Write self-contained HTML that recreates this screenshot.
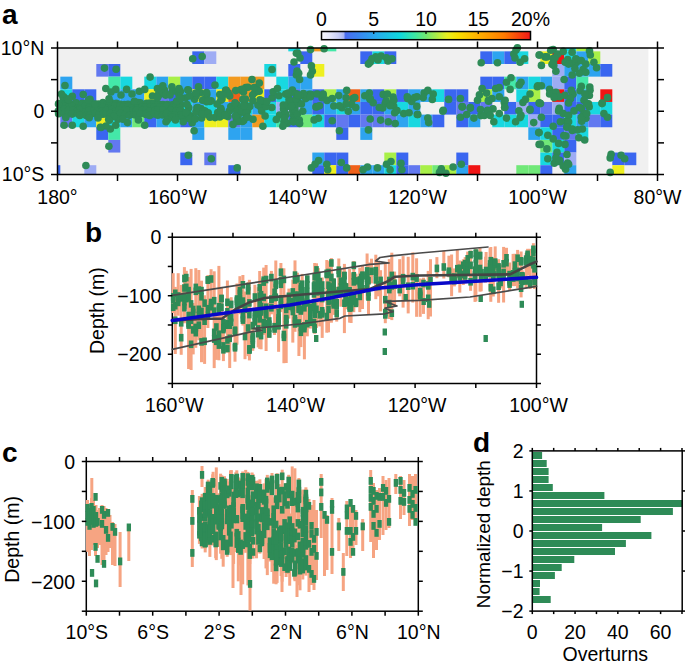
<!DOCTYPE html>
<html><head><meta charset="utf-8"><style>
html,body{margin:0;padding:0;background:#fff;width:685px;height:666px;overflow:hidden;}
svg{display:block;font-family:"Liberation Sans",sans-serif;}
</style></head><body>
<svg width="685" height="666" viewBox="0 0 685 666" font-family="Liberation Sans, sans-serif" fill="#000"><rect x="57.5" y="48" width="590.9" height="126.5" fill="#f0f0f0"/>
<defs><clipPath id="ca"><rect x="57.5" y="48" width="600" height="126.5"/></clipPath></defs><g clip-path="url(#ca)"><rect x="288.30" y="48.00" width="12.00" height="3.35" fill="#18d8e0"/><rect x="312.30" y="48.00" width="12.00" height="3.35" fill="#f29a20"/><rect x="324.30" y="48.00" width="12.00" height="3.35" fill="#44e8a8"/><rect x="564.30" y="48.00" width="12.00" height="3.35" fill="#18d8e0"/><rect x="576.30" y="48.00" width="12.00" height="3.35" fill="#a8f048"/><rect x="192.30" y="51.35" width="12.00" height="12.65" fill="#3a66f0"/><rect x="204.30" y="51.35" width="12.00" height="12.65" fill="#9eacf4"/><rect x="300.30" y="51.35" width="12.00" height="12.65" fill="#3a66f0"/><rect x="360.30" y="51.35" width="12.00" height="12.65" fill="#3a66f0"/><rect x="372.30" y="51.35" width="12.00" height="12.65" fill="#18d8e0"/><rect x="384.30" y="51.35" width="12.00" height="12.65" fill="#3a66f0"/><rect x="480.30" y="51.35" width="12.00" height="12.65" fill="#3a66f0"/><rect x="492.30" y="51.35" width="12.00" height="12.65" fill="#2ea4f0"/><rect x="504.30" y="51.35" width="12.00" height="12.65" fill="#3a66f0"/><rect x="516.30" y="51.35" width="12.00" height="12.65" fill="#18d8e0"/><rect x="540.30" y="51.35" width="12.00" height="12.65" fill="#eef020"/><rect x="552.30" y="51.35" width="12.00" height="12.65" fill="#f01414"/><rect x="564.30" y="51.35" width="12.00" height="12.65" fill="#18d8e0"/><rect x="576.30" y="51.35" width="12.00" height="12.65" fill="#2ea4f0"/><rect x="588.30" y="51.35" width="12.00" height="12.65" fill="#a8f048"/><rect x="96.30" y="64.00" width="12.00" height="12.65" fill="#6278f0"/><rect x="108.30" y="64.00" width="12.00" height="12.65" fill="#3a66f0"/><rect x="264.30" y="64.00" width="12.00" height="12.65" fill="#18d8e0"/><rect x="288.30" y="64.00" width="12.00" height="12.65" fill="#3a66f0"/><rect x="312.30" y="64.00" width="12.00" height="12.65" fill="#eef020"/><rect x="552.30" y="64.00" width="12.00" height="12.65" fill="#9eacf4"/><rect x="564.30" y="64.00" width="12.00" height="12.65" fill="#2ea4f0"/><rect x="576.30" y="64.00" width="12.00" height="12.65" fill="#2ea4f0"/><rect x="588.30" y="64.00" width="12.00" height="12.65" fill="#2ea4f0"/><rect x="600.30" y="64.00" width="12.00" height="12.65" fill="#3a66f0"/><rect x="60.30" y="76.65" width="12.00" height="12.65" fill="#2ea4f0"/><rect x="108.30" y="76.65" width="12.00" height="12.65" fill="#44e8a8"/><rect x="120.30" y="76.65" width="12.00" height="12.65" fill="#18d8e0"/><rect x="144.30" y="76.65" width="12.00" height="12.65" fill="#18d8e0"/><rect x="156.30" y="76.65" width="12.00" height="12.65" fill="#2ea4f0"/><rect x="168.30" y="76.65" width="12.00" height="12.65" fill="#a8f048"/><rect x="180.30" y="76.65" width="12.00" height="12.65" fill="#2ea4f0"/><rect x="192.30" y="76.65" width="12.00" height="12.65" fill="#3a66f0"/><rect x="204.30" y="76.65" width="12.00" height="12.65" fill="#3a66f0"/><rect x="216.30" y="76.65" width="12.00" height="12.65" fill="#18d8e0"/><rect x="228.30" y="76.65" width="12.00" height="12.65" fill="#f29a20"/><rect x="240.30" y="76.65" width="12.00" height="12.65" fill="#f29a20"/><rect x="252.30" y="76.65" width="12.00" height="12.65" fill="#f29a20"/><rect x="276.30" y="76.65" width="12.00" height="12.65" fill="#18d8e0"/><rect x="288.30" y="76.65" width="12.00" height="12.65" fill="#2ea4f0"/><rect x="300.30" y="76.65" width="12.00" height="12.65" fill="#2ea4f0"/><rect x="480.30" y="76.65" width="12.00" height="12.65" fill="#3a66f0"/><rect x="492.30" y="76.65" width="12.00" height="12.65" fill="#3a66f0"/><rect x="504.30" y="76.65" width="12.00" height="12.65" fill="#44e8a8"/><rect x="516.30" y="76.65" width="12.00" height="12.65" fill="#2ea4f0"/><rect x="528.30" y="76.65" width="12.00" height="12.65" fill="#18d8e0"/><rect x="540.30" y="76.65" width="12.00" height="12.65" fill="#2ea4f0"/><rect x="552.30" y="76.65" width="12.00" height="12.65" fill="#9eacf4"/><rect x="564.30" y="76.65" width="12.00" height="12.65" fill="#3a66f0"/><rect x="576.30" y="76.65" width="12.00" height="12.65" fill="#44e8a8"/><rect x="60.30" y="89.30" width="12.00" height="12.65" fill="#18d8e0"/><rect x="72.30" y="89.30" width="12.00" height="12.65" fill="#3a66f0"/><rect x="84.30" y="89.30" width="12.00" height="12.65" fill="#3a66f0"/><rect x="108.30" y="89.30" width="12.00" height="12.65" fill="#2ea4f0"/><rect x="120.30" y="89.30" width="12.00" height="12.65" fill="#2ea4f0"/><rect x="132.30" y="89.30" width="12.00" height="12.65" fill="#2ea4f0"/><rect x="144.30" y="89.30" width="12.00" height="12.65" fill="#eef020"/><rect x="156.30" y="89.30" width="12.00" height="12.65" fill="#6278f0"/><rect x="168.30" y="89.30" width="12.00" height="12.65" fill="#3a66f0"/><rect x="180.30" y="89.30" width="12.00" height="12.65" fill="#2ea4f0"/><rect x="192.30" y="89.30" width="12.00" height="12.65" fill="#eef020"/><rect x="204.30" y="89.30" width="12.00" height="12.65" fill="#2ea4f0"/><rect x="216.30" y="89.30" width="12.00" height="12.65" fill="#eef020"/><rect x="228.30" y="89.30" width="12.00" height="12.65" fill="#f06018"/><rect x="240.30" y="89.30" width="12.00" height="12.65" fill="#f29a20"/><rect x="252.30" y="89.30" width="12.00" height="12.65" fill="#eef020"/><rect x="264.30" y="89.30" width="12.00" height="12.65" fill="#3a66f0"/><rect x="276.30" y="89.30" width="12.00" height="12.65" fill="#18d8e0"/><rect x="288.30" y="89.30" width="12.00" height="12.65" fill="#3a66f0"/><rect x="300.30" y="89.30" width="12.00" height="12.65" fill="#2ea4f0"/><rect x="312.30" y="89.30" width="12.00" height="12.65" fill="#3a66f0"/><rect x="324.30" y="89.30" width="12.00" height="12.65" fill="#a8f048"/><rect x="336.30" y="89.30" width="12.00" height="12.65" fill="#2ea4f0"/><rect x="348.30" y="89.30" width="12.00" height="12.65" fill="#f06018"/><rect x="360.30" y="89.30" width="12.00" height="12.65" fill="#2ea4f0"/><rect x="372.30" y="89.30" width="12.00" height="12.65" fill="#3a66f0"/><rect x="384.30" y="89.30" width="12.00" height="12.65" fill="#a8f048"/><rect x="396.30" y="89.30" width="12.00" height="12.65" fill="#3a66f0"/><rect x="408.30" y="89.30" width="12.00" height="12.65" fill="#2ea4f0"/><rect x="420.30" y="89.30" width="12.00" height="12.65" fill="#2ea4f0"/><rect x="432.30" y="89.30" width="12.00" height="12.65" fill="#18d8e0"/><rect x="444.30" y="89.30" width="12.00" height="12.65" fill="#3a66f0"/><rect x="456.30" y="89.30" width="12.00" height="12.65" fill="#3a66f0"/><rect x="480.30" y="89.30" width="12.00" height="12.65" fill="#a8f048"/><rect x="492.30" y="89.30" width="12.00" height="12.65" fill="#2ea4f0"/><rect x="516.30" y="89.30" width="12.00" height="12.65" fill="#18d8e0"/><rect x="528.30" y="89.30" width="12.00" height="12.65" fill="#a8f048"/><rect x="552.30" y="89.30" width="12.00" height="12.65" fill="#f01414"/><rect x="564.30" y="89.30" width="12.00" height="12.65" fill="#3a66f0"/><rect x="576.30" y="89.30" width="12.00" height="12.65" fill="#2ea4f0"/><rect x="600.30" y="89.30" width="12.00" height="12.65" fill="#f01414"/><rect x="57.50" y="101.95" width="2.80" height="12.65" fill="#2ea4f0"/><rect x="60.30" y="101.95" width="12.00" height="12.65" fill="#18d8e0"/><rect x="72.30" y="101.95" width="12.00" height="12.65" fill="#f29a20"/><rect x="84.30" y="101.95" width="12.00" height="12.65" fill="#2ea4f0"/><rect x="96.30" y="101.95" width="12.00" height="12.65" fill="#18d8e0"/><rect x="108.30" y="101.95" width="12.00" height="12.65" fill="#eef020"/><rect x="120.30" y="101.95" width="12.00" height="12.65" fill="#a8f048"/><rect x="132.30" y="101.95" width="12.00" height="12.65" fill="#eef020"/><rect x="144.30" y="101.95" width="12.00" height="12.65" fill="#18d8e0"/><rect x="156.30" y="101.95" width="12.00" height="12.65" fill="#2ea4f0"/><rect x="168.30" y="101.95" width="12.00" height="12.65" fill="#2ea4f0"/><rect x="180.30" y="101.95" width="12.00" height="12.65" fill="#18d8e0"/><rect x="192.30" y="101.95" width="12.00" height="12.65" fill="#2ea4f0"/><rect x="204.30" y="101.95" width="12.00" height="12.65" fill="#18d8e0"/><rect x="216.30" y="101.95" width="12.00" height="12.65" fill="#2ea4f0"/><rect x="228.30" y="101.95" width="12.00" height="12.65" fill="#2ea4f0"/><rect x="240.30" y="101.95" width="12.00" height="12.65" fill="#18d8e0"/><rect x="252.30" y="101.95" width="12.00" height="12.65" fill="#2ea4f0"/><rect x="264.30" y="101.95" width="12.00" height="12.65" fill="#18d8e0"/><rect x="276.30" y="101.95" width="12.00" height="12.65" fill="#9eacf4"/><rect x="288.30" y="101.95" width="12.00" height="12.65" fill="#9eacf4"/><rect x="300.30" y="101.95" width="12.00" height="12.65" fill="#2ea4f0"/><rect x="312.30" y="101.95" width="12.00" height="12.65" fill="#3a66f0"/><rect x="324.30" y="101.95" width="12.00" height="12.65" fill="#2ea4f0"/><rect x="336.30" y="101.95" width="12.00" height="12.65" fill="#18d8e0"/><rect x="348.30" y="101.95" width="12.00" height="12.65" fill="#2ea4f0"/><rect x="360.30" y="101.95" width="12.00" height="12.65" fill="#3a66f0"/><rect x="372.30" y="101.95" width="12.00" height="12.65" fill="#3a66f0"/><rect x="384.30" y="101.95" width="12.00" height="12.65" fill="#2ea4f0"/><rect x="396.30" y="101.95" width="12.00" height="12.65" fill="#18d8e0"/><rect x="408.30" y="101.95" width="12.00" height="12.65" fill="#2ea4f0"/><rect x="444.30" y="101.95" width="12.00" height="12.65" fill="#3a66f0"/><rect x="456.30" y="101.95" width="12.00" height="12.65" fill="#6278f0"/><rect x="468.30" y="101.95" width="12.00" height="12.65" fill="#3a66f0"/><rect x="480.30" y="101.95" width="12.00" height="12.65" fill="#6278f0"/><rect x="504.30" y="101.95" width="12.00" height="12.65" fill="#3a66f0"/><rect x="516.30" y="101.95" width="12.00" height="12.65" fill="#9eacf4"/><rect x="528.30" y="101.95" width="12.00" height="12.65" fill="#3a66f0"/><rect x="540.30" y="101.95" width="12.00" height="12.65" fill="#6278f0"/><rect x="552.30" y="101.95" width="12.00" height="12.65" fill="#9eacf4"/><rect x="564.30" y="101.95" width="12.00" height="12.65" fill="#3a66f0"/><rect x="576.30" y="101.95" width="12.00" height="12.65" fill="#3a66f0"/><rect x="588.30" y="101.95" width="12.00" height="12.65" fill="#18d8e0"/><rect x="600.30" y="101.95" width="12.00" height="12.65" fill="#18d8e0"/><rect x="60.30" y="114.60" width="12.00" height="12.65" fill="#6278f0"/><rect x="72.30" y="114.60" width="12.00" height="12.65" fill="#18d8e0"/><rect x="84.30" y="114.60" width="12.00" height="12.65" fill="#2ea4f0"/><rect x="96.30" y="114.60" width="12.00" height="12.65" fill="#eef020"/><rect x="108.30" y="114.60" width="12.00" height="12.65" fill="#18d8e0"/><rect x="120.30" y="114.60" width="12.00" height="12.65" fill="#2ea4f0"/><rect x="132.30" y="114.60" width="12.00" height="12.65" fill="#70e878"/><rect x="144.30" y="114.60" width="12.00" height="12.65" fill="#3a66f0"/><rect x="156.30" y="114.60" width="12.00" height="12.65" fill="#2ea4f0"/><rect x="168.30" y="114.60" width="12.00" height="12.65" fill="#18d8e0"/><rect x="180.30" y="114.60" width="12.00" height="12.65" fill="#3a66f0"/><rect x="192.30" y="114.60" width="12.00" height="12.65" fill="#2ea4f0"/><rect x="204.30" y="114.60" width="12.00" height="12.65" fill="#eef020"/><rect x="216.30" y="114.60" width="12.00" height="12.65" fill="#eef020"/><rect x="228.30" y="114.60" width="12.00" height="12.65" fill="#6278f0"/><rect x="240.30" y="114.60" width="12.00" height="12.65" fill="#2ea4f0"/><rect x="252.30" y="114.60" width="12.00" height="12.65" fill="#f29a20"/><rect x="264.30" y="114.60" width="12.00" height="12.65" fill="#18d8e0"/><rect x="276.30" y="114.60" width="12.00" height="12.65" fill="#44e8a8"/><rect x="288.30" y="114.60" width="12.00" height="12.65" fill="#3a66f0"/><rect x="300.30" y="114.60" width="12.00" height="12.65" fill="#70e878"/><rect x="312.30" y="114.60" width="12.00" height="12.65" fill="#18d8e0"/><rect x="324.30" y="114.60" width="12.00" height="12.65" fill="#3a66f0"/><rect x="336.30" y="114.60" width="12.00" height="12.65" fill="#6278f0"/><rect x="348.30" y="114.60" width="12.00" height="12.65" fill="#3a66f0"/><rect x="360.30" y="114.60" width="12.00" height="12.65" fill="#6278f0"/><rect x="372.30" y="114.60" width="12.00" height="12.65" fill="#6278f0"/><rect x="384.30" y="114.60" width="12.00" height="12.65" fill="#6278f0"/><rect x="396.30" y="114.60" width="12.00" height="12.65" fill="#2ea4f0"/><rect x="408.30" y="114.60" width="12.00" height="12.65" fill="#18d8e0"/><rect x="420.30" y="114.60" width="12.00" height="12.65" fill="#2ea4f0"/><rect x="432.30" y="114.60" width="12.00" height="12.65" fill="#3a66f0"/><rect x="456.30" y="114.60" width="12.00" height="12.65" fill="#3a66f0"/><rect x="468.30" y="114.60" width="12.00" height="12.65" fill="#2ea4f0"/><rect x="492.30" y="114.60" width="12.00" height="12.65" fill="#18d8e0"/><rect x="504.30" y="114.60" width="12.00" height="12.65" fill="#18d8e0"/><rect x="516.30" y="114.60" width="12.00" height="12.65" fill="#18d8e0"/><rect x="528.30" y="114.60" width="12.00" height="12.65" fill="#9eacf4"/><rect x="540.30" y="114.60" width="12.00" height="12.65" fill="#3a66f0"/><rect x="552.30" y="114.60" width="12.00" height="12.65" fill="#3a66f0"/><rect x="564.30" y="114.60" width="12.00" height="12.65" fill="#18d8e0"/><rect x="576.30" y="114.60" width="12.00" height="12.65" fill="#2ea4f0"/><rect x="588.30" y="114.60" width="12.00" height="12.65" fill="#6278f0"/><rect x="600.30" y="114.60" width="12.00" height="12.65" fill="#3a66f0"/><rect x="96.30" y="127.25" width="12.00" height="12.65" fill="#3a66f0"/><rect x="108.30" y="127.25" width="12.00" height="12.65" fill="#44e8a8"/><rect x="192.30" y="127.25" width="12.00" height="12.65" fill="#2ea4f0"/><rect x="228.30" y="127.25" width="12.00" height="12.65" fill="#2ea4f0"/><rect x="240.30" y="127.25" width="12.00" height="12.65" fill="#2ea4f0"/><rect x="336.30" y="127.25" width="12.00" height="12.65" fill="#3a66f0"/><rect x="360.30" y="127.25" width="12.00" height="12.65" fill="#2ea4f0"/><rect x="528.30" y="127.25" width="12.00" height="12.65" fill="#2ea4f0"/><rect x="540.30" y="127.25" width="12.00" height="12.65" fill="#18d8e0"/><rect x="552.30" y="127.25" width="12.00" height="12.65" fill="#3a66f0"/><rect x="564.30" y="127.25" width="12.00" height="12.65" fill="#6278f0"/><rect x="576.30" y="127.25" width="12.00" height="12.65" fill="#18d8e0"/><rect x="108.30" y="139.90" width="12.00" height="12.65" fill="#6278f0"/><rect x="540.30" y="139.90" width="12.00" height="12.65" fill="#70e878"/><rect x="552.30" y="139.90" width="12.00" height="12.65" fill="#18d8e0"/><rect x="564.30" y="139.90" width="12.00" height="12.65" fill="#3a66f0"/><rect x="180.30" y="152.55" width="12.00" height="12.65" fill="#3a66f0"/><rect x="204.30" y="152.55" width="12.00" height="12.65" fill="#6278f0"/><rect x="312.30" y="152.55" width="12.00" height="12.65" fill="#2ea4f0"/><rect x="324.30" y="152.55" width="12.00" height="12.65" fill="#3a66f0"/><rect x="336.30" y="152.55" width="12.00" height="12.65" fill="#3a66f0"/><rect x="384.30" y="152.55" width="12.00" height="12.65" fill="#a8f048"/><rect x="396.30" y="152.55" width="12.00" height="12.65" fill="#3a66f0"/><rect x="456.30" y="152.55" width="12.00" height="12.65" fill="#3a66f0"/><rect x="540.30" y="152.55" width="12.00" height="12.65" fill="#18d8e0"/><rect x="552.30" y="152.55" width="12.00" height="12.65" fill="#3a66f0"/><rect x="564.30" y="152.55" width="12.00" height="12.65" fill="#9eacf4"/><rect x="612.30" y="152.55" width="12.00" height="12.65" fill="#3a66f0"/><rect x="624.30" y="152.55" width="12.00" height="12.65" fill="#3a66f0"/><rect x="57.50" y="165.20" width="2.80" height="9.30" fill="#3a66f0"/><rect x="84.30" y="165.20" width="12.00" height="9.30" fill="#9eacf4"/><rect x="228.30" y="165.20" width="12.00" height="9.30" fill="#3a66f0"/><rect x="312.30" y="165.20" width="12.00" height="9.30" fill="#3a66f0"/><rect x="324.30" y="165.20" width="12.00" height="9.30" fill="#eef020"/><rect x="336.30" y="165.20" width="12.00" height="9.30" fill="#3a66f0"/><rect x="348.30" y="165.20" width="12.00" height="9.30" fill="#f06018"/><rect x="360.30" y="165.20" width="12.00" height="9.30" fill="#2ea4f0"/><rect x="372.30" y="165.20" width="12.00" height="9.30" fill="#2ea4f0"/><rect x="384.30" y="165.20" width="12.00" height="9.30" fill="#18d8e0"/><rect x="396.30" y="165.20" width="12.00" height="9.30" fill="#3a66f0"/><rect x="408.30" y="165.20" width="12.00" height="9.30" fill="#6278f0"/><rect x="420.30" y="165.20" width="12.00" height="9.30" fill="#a8f048"/><rect x="432.30" y="165.20" width="12.00" height="9.30" fill="#70e878"/><rect x="444.30" y="165.20" width="12.00" height="9.30" fill="#a8f048"/><rect x="456.30" y="165.20" width="12.00" height="9.30" fill="#2ea4f0"/><rect x="468.30" y="165.20" width="12.00" height="9.30" fill="#f01414"/><rect x="516.30" y="165.20" width="12.00" height="9.30" fill="#70e878"/><rect x="528.30" y="165.20" width="12.00" height="9.30" fill="#70e878"/><rect x="540.30" y="165.20" width="12.00" height="9.30" fill="#3a66f0"/><rect x="564.30" y="165.20" width="12.00" height="9.30" fill="#2ea4f0"/><rect x="612.30" y="165.20" width="12.00" height="9.30" fill="#eef020"/></g><g fill="#2e8b57"><circle cx="58.9" cy="103.6" r="3.8"/><circle cx="63.5" cy="103.7" r="3.8"/><circle cx="68.4" cy="102.5" r="3.8"/><circle cx="71.2" cy="104.3" r="3.8"/><circle cx="76.1" cy="102.9" r="3.8"/><circle cx="82.2" cy="103.4" r="3.8"/><circle cx="86.1" cy="103.4" r="3.8"/><circle cx="89.9" cy="102.7" r="3.8"/><circle cx="94.2" cy="104.4" r="3.8"/><circle cx="98.3" cy="104.1" r="3.8"/><circle cx="102.9" cy="102.5" r="3.8"/><circle cx="107.4" cy="103.7" r="3.8"/><circle cx="110.6" cy="102.4" r="3.8"/><circle cx="116.3" cy="103.4" r="3.8"/><circle cx="120.2" cy="104.4" r="3.8"/><circle cx="124.5" cy="104.5" r="3.8"/><circle cx="128.0" cy="104.2" r="3.8"/><circle cx="132.5" cy="104.5" r="3.8"/><circle cx="137.8" cy="102.5" r="3.8"/><circle cx="140.3" cy="102.8" r="3.8"/><circle cx="146.6" cy="103.3" r="3.8"/><circle cx="150.1" cy="103.0" r="3.8"/><circle cx="154.1" cy="103.2" r="3.8"/><circle cx="158.0" cy="103.7" r="3.8"/><circle cx="162.9" cy="104.5" r="3.8"/><circle cx="167.4" cy="104.5" r="3.8"/><circle cx="172.2" cy="104.7" r="3.8"/><circle cx="176.0" cy="102.7" r="3.8"/><circle cx="180.8" cy="104.6" r="3.8"/><circle cx="60.5" cy="107.3" r="3.8"/><circle cx="64.3" cy="106.4" r="3.8"/><circle cx="68.9" cy="107.3" r="3.8"/><circle cx="71.9" cy="106.1" r="3.8"/><circle cx="77.5" cy="108.3" r="3.8"/><circle cx="80.0" cy="107.8" r="3.8"/><circle cx="85.1" cy="106.3" r="3.8"/><circle cx="89.1" cy="107.7" r="3.8"/><circle cx="94.8" cy="106.0" r="3.8"/><circle cx="98.5" cy="106.0" r="3.8"/><circle cx="103.0" cy="106.7" r="3.8"/><circle cx="107.7" cy="108.3" r="3.8"/><circle cx="111.1" cy="108.3" r="3.8"/><circle cx="114.9" cy="106.1" r="3.8"/><circle cx="119.9" cy="106.0" r="3.8"/><circle cx="123.3" cy="106.9" r="3.8"/><circle cx="128.6" cy="106.3" r="3.8"/><circle cx="131.5" cy="108.0" r="3.8"/><circle cx="136.5" cy="108.2" r="3.8"/><circle cx="142.2" cy="106.8" r="3.8"/><circle cx="145.4" cy="107.1" r="3.8"/><circle cx="150.1" cy="107.3" r="3.8"/><circle cx="154.2" cy="107.4" r="3.8"/><circle cx="159.5" cy="107.1" r="3.8"/><circle cx="162.5" cy="107.6" r="3.8"/><circle cx="166.4" cy="106.6" r="3.8"/><circle cx="172.4" cy="107.2" r="3.8"/><circle cx="175.7" cy="105.9" r="3.8"/><circle cx="179.7" cy="107.3" r="3.8"/><circle cx="58.3" cy="111.0" r="3.8"/><circle cx="64.1" cy="109.6" r="3.8"/><circle cx="68.4" cy="110.6" r="3.8"/><circle cx="72.8" cy="110.3" r="3.8"/><circle cx="77.2" cy="111.3" r="3.8"/><circle cx="79.9" cy="109.6" r="3.8"/><circle cx="85.7" cy="111.8" r="3.8"/><circle cx="89.0" cy="110.6" r="3.8"/><circle cx="94.1" cy="110.3" r="3.8"/><circle cx="97.9" cy="110.3" r="3.8"/><circle cx="102.2" cy="110.9" r="3.8"/><circle cx="106.3" cy="110.4" r="3.8"/><circle cx="111.8" cy="109.6" r="3.8"/><circle cx="115.6" cy="111.3" r="3.8"/><circle cx="119.2" cy="110.0" r="3.8"/><circle cx="124.7" cy="110.1" r="3.8"/><circle cx="127.5" cy="110.5" r="3.8"/><circle cx="133.1" cy="109.7" r="3.8"/><circle cx="136.5" cy="110.3" r="3.8"/><circle cx="142.0" cy="110.6" r="3.8"/><circle cx="146.4" cy="109.9" r="3.8"/><circle cx="149.4" cy="111.1" r="3.8"/><circle cx="155.0" cy="110.6" r="3.8"/><circle cx="157.7" cy="109.8" r="3.8"/><circle cx="162.8" cy="110.0" r="3.8"/><circle cx="167.7" cy="111.5" r="3.8"/><circle cx="170.5" cy="110.2" r="3.8"/><circle cx="176.3" cy="111.0" r="3.8"/><circle cx="180.6" cy="110.3" r="3.8"/><circle cx="58.6" cy="113.8" r="3.8"/><circle cx="64.5" cy="113.8" r="3.8"/><circle cx="67.7" cy="114.1" r="3.8"/><circle cx="72.2" cy="114.1" r="3.8"/><circle cx="77.7" cy="113.5" r="3.8"/><circle cx="79.8" cy="115.4" r="3.8"/><circle cx="86.2" cy="115.5" r="3.8"/><circle cx="89.4" cy="115.4" r="3.8"/><circle cx="94.9" cy="113.6" r="3.8"/><circle cx="98.8" cy="115.1" r="3.8"/><circle cx="102.9" cy="114.3" r="3.8"/><circle cx="106.3" cy="113.9" r="3.8"/><circle cx="110.4" cy="113.3" r="3.8"/><circle cx="115.6" cy="113.8" r="3.8"/><circle cx="120.4" cy="113.2" r="3.8"/><circle cx="125.0" cy="114.8" r="3.8"/><circle cx="129.3" cy="115.3" r="3.8"/><circle cx="133.6" cy="114.5" r="3.8"/><circle cx="135.7" cy="114.9" r="3.8"/><circle cx="140.4" cy="113.8" r="3.8"/><circle cx="145.9" cy="114.4" r="3.8"/><circle cx="149.6" cy="115.4" r="3.8"/><circle cx="154.4" cy="113.9" r="3.8"/><circle cx="157.8" cy="115.2" r="3.8"/><circle cx="162.6" cy="115.0" r="3.8"/><circle cx="166.6" cy="113.6" r="3.8"/><circle cx="171.4" cy="115.1" r="3.8"/><circle cx="174.8" cy="115.0" r="3.8"/><circle cx="180.9" cy="115.0" r="3.8"/><circle cx="158.3" cy="96.0" r="3.8"/><circle cx="134.3" cy="101.2" r="3.8"/><circle cx="63.1" cy="97.6" r="3.8"/><circle cx="90.0" cy="99.2" r="3.8"/><circle cx="109.0" cy="98.8" r="3.8"/><circle cx="152.5" cy="96.0" r="3.8"/><circle cx="63.7" cy="96.8" r="3.8"/><circle cx="72.3" cy="96.4" r="3.8"/><circle cx="176.9" cy="101.1" r="3.8"/><circle cx="67.6" cy="99.0" r="3.8"/><circle cx="164.5" cy="90.4" r="3.8"/><circle cx="165.5" cy="95.1" r="3.8"/><circle cx="172.6" cy="91.1" r="3.8"/><circle cx="160.7" cy="90.6" r="3.8"/><circle cx="158.7" cy="93.8" r="3.8"/><circle cx="176.5" cy="91.3" r="3.8"/><circle cx="157.4" cy="88.5" r="3.8"/><circle cx="166.2" cy="94.5" r="3.8"/><circle cx="178.5" cy="91.3" r="3.8"/><circle cx="179.0" cy="94.7" r="3.8"/><circle cx="110.1" cy="117.2" r="3.8"/><circle cx="118.0" cy="119.2" r="3.8"/><circle cx="108.7" cy="119.2" r="3.8"/><circle cx="113.7" cy="116.5" r="3.8"/><circle cx="122.9" cy="119.2" r="3.8"/><circle cx="65.8" cy="117.5" r="3.8"/><circle cx="109.4" cy="120.3" r="3.8"/><circle cx="172.2" cy="117.2" r="3.8"/><circle cx="167.4" cy="119.7" r="3.8"/><circle cx="89.2" cy="117.8" r="3.8"/><circle cx="190.5" cy="116.1" r="3.8"/><circle cx="236.3" cy="118.8" r="3.8"/><circle cx="247.4" cy="110.7" r="3.8"/><circle cx="242.4" cy="106.9" r="3.8"/><circle cx="188.8" cy="107.7" r="3.8"/><circle cx="180.4" cy="91.3" r="3.8"/><circle cx="245.8" cy="87.6" r="3.8"/><circle cx="187.8" cy="89.7" r="3.8"/><circle cx="254.8" cy="92.6" r="3.8"/><circle cx="182.0" cy="117.1" r="3.8"/><circle cx="190.3" cy="117.2" r="3.8"/><circle cx="237.3" cy="116.9" r="3.8"/><circle cx="261.0" cy="107.4" r="3.8"/><circle cx="247.9" cy="87.3" r="3.8"/><circle cx="245.2" cy="104.9" r="3.8"/><circle cx="240.8" cy="89.9" r="3.8"/><circle cx="243.7" cy="120.6" r="3.8"/><circle cx="185.2" cy="98.0" r="3.8"/><circle cx="227.9" cy="116.6" r="3.8"/><circle cx="200.6" cy="92.7" r="3.8"/><circle cx="201.2" cy="108.8" r="3.8"/><circle cx="244.1" cy="100.6" r="3.8"/><circle cx="211.2" cy="100.7" r="3.8"/><circle cx="209.8" cy="101.5" r="3.8"/><circle cx="187.1" cy="104.5" r="3.8"/><circle cx="262.7" cy="101.3" r="3.8"/><circle cx="243.5" cy="91.9" r="3.8"/><circle cx="238.7" cy="114.0" r="3.8"/><circle cx="237.3" cy="105.1" r="3.8"/><circle cx="221.1" cy="109.8" r="3.8"/><circle cx="256.3" cy="91.5" r="3.8"/><circle cx="188.1" cy="113.7" r="3.8"/><circle cx="257.9" cy="105.1" r="3.8"/><circle cx="217.7" cy="112.6" r="3.8"/><circle cx="195.8" cy="95.9" r="3.8"/><circle cx="196.9" cy="107.7" r="3.8"/><circle cx="206.8" cy="94.6" r="3.8"/><circle cx="238.7" cy="121.3" r="3.8"/><circle cx="205.1" cy="112.1" r="3.8"/><circle cx="215.1" cy="117.6" r="3.8"/><circle cx="229.7" cy="95.9" r="3.8"/><circle cx="198.5" cy="86.9" r="3.8"/><circle cx="220.8" cy="100.2" r="3.8"/><circle cx="194.6" cy="99.3" r="3.8"/><circle cx="207.4" cy="114.6" r="3.8"/><circle cx="192.2" cy="122.7" r="3.8"/><circle cx="220.8" cy="108.2" r="3.8"/><circle cx="219.8" cy="116.9" r="3.8"/><circle cx="249.8" cy="106.6" r="3.8"/><circle cx="220.9" cy="112.7" r="3.8"/><circle cx="252.8" cy="100.8" r="3.8"/><circle cx="242.4" cy="121.5" r="3.8"/><circle cx="219.7" cy="94.5" r="3.8"/><circle cx="200.0" cy="112.6" r="3.8"/><circle cx="237.4" cy="121.5" r="3.8"/><circle cx="252.6" cy="95.0" r="3.8"/><circle cx="196.1" cy="95.6" r="3.8"/><circle cx="195.9" cy="112.1" r="3.8"/><circle cx="253.0" cy="119.3" r="3.8"/><circle cx="201.7" cy="118.0" r="3.8"/><circle cx="206.6" cy="101.7" r="3.8"/><circle cx="242.0" cy="89.2" r="3.8"/><circle cx="187.9" cy="116.9" r="3.8"/><circle cx="204.8" cy="99.2" r="3.8"/><circle cx="229.3" cy="111.0" r="3.8"/><circle cx="180.6" cy="98.4" r="3.8"/><circle cx="217.1" cy="104.0" r="3.8"/><circle cx="197.9" cy="107.6" r="3.8"/><circle cx="261.2" cy="100.5" r="3.8"/><circle cx="226.3" cy="90.4" r="3.8"/><circle cx="203.4" cy="110.6" r="3.8"/><circle cx="189.6" cy="118.8" r="3.8"/><circle cx="257.2" cy="89.6" r="3.8"/><circle cx="260.0" cy="99.8" r="3.8"/><circle cx="245.7" cy="114.0" r="3.8"/><circle cx="205.1" cy="111.0" r="3.8"/><circle cx="235.6" cy="115.8" r="3.8"/><circle cx="202.6" cy="113.9" r="3.8"/><circle cx="261.7" cy="110.9" r="3.8"/><circle cx="225.6" cy="90.2" r="3.8"/><circle cx="222.0" cy="99.0" r="3.8"/><circle cx="241.0" cy="111.1" r="3.8"/><circle cx="228.1" cy="92.7" r="3.8"/><circle cx="234.9" cy="109.3" r="3.8"/><circle cx="195.2" cy="118.9" r="3.8"/><circle cx="235.7" cy="90.6" r="3.8"/><circle cx="259.2" cy="91.2" r="3.8"/><circle cx="208.2" cy="112.7" r="3.8"/><circle cx="230.8" cy="106.5" r="3.8"/><circle cx="235.0" cy="102.9" r="3.8"/><circle cx="206.6" cy="92.5" r="3.8"/><circle cx="185.8" cy="112.5" r="3.8"/><circle cx="244.1" cy="106.1" r="3.8"/><circle cx="242.9" cy="99.3" r="3.8"/><circle cx="202.6" cy="100.2" r="3.8"/><circle cx="254.2" cy="87.6" r="3.8"/><circle cx="222.9" cy="95.1" r="3.8"/><circle cx="245.4" cy="99.1" r="3.8"/><circle cx="208.3" cy="100.9" r="3.8"/><circle cx="226.0" cy="114.6" r="3.8"/><circle cx="210.0" cy="117.3" r="3.8"/><circle cx="189.5" cy="96.0" r="3.8"/><circle cx="188.5" cy="90.2" r="3.8"/><circle cx="246.2" cy="112.9" r="3.8"/><circle cx="195.7" cy="93.0" r="3.8"/><circle cx="279.6" cy="115.0" r="3.8"/><circle cx="293.6" cy="115.2" r="3.8"/><circle cx="285.7" cy="94.1" r="3.8"/><circle cx="278.9" cy="95.8" r="3.8"/><circle cx="283.5" cy="108.9" r="3.8"/><circle cx="272.1" cy="97.8" r="3.8"/><circle cx="292.4" cy="90.1" r="3.8"/><circle cx="293.1" cy="120.2" r="3.8"/><circle cx="298.2" cy="102.4" r="3.8"/><circle cx="284.3" cy="109.4" r="3.8"/><circle cx="287.2" cy="123.2" r="3.8"/><circle cx="289.0" cy="99.5" r="3.8"/><circle cx="295.1" cy="105.9" r="3.8"/><circle cx="286.0" cy="114.4" r="3.8"/><circle cx="265.1" cy="116.0" r="3.8"/><circle cx="288.2" cy="106.2" r="3.8"/><circle cx="283.3" cy="105.1" r="3.8"/><circle cx="271.8" cy="107.5" r="3.8"/><circle cx="266.3" cy="106.5" r="3.8"/><circle cx="287.6" cy="104.5" r="3.8"/><circle cx="284.8" cy="122.6" r="3.8"/><circle cx="296.2" cy="93.7" r="3.8"/><circle cx="292.7" cy="110.8" r="3.8"/><circle cx="266.8" cy="101.6" r="3.8"/><circle cx="273.2" cy="91.7" r="3.8"/><circle cx="283.9" cy="121.5" r="3.8"/><circle cx="276.3" cy="119.5" r="3.8"/><circle cx="289.3" cy="93.7" r="3.8"/><circle cx="295.0" cy="110.0" r="3.8"/><circle cx="297.4" cy="114.1" r="3.8"/><circle cx="290.9" cy="101.0" r="3.8"/><circle cx="293.2" cy="121.6" r="3.8"/><circle cx="295.2" cy="104.3" r="3.8"/><circle cx="291.5" cy="106.0" r="3.8"/><circle cx="309.5" cy="94.2" r="3.8"/><circle cx="305.7" cy="98.6" r="3.8"/><circle cx="315.9" cy="106.9" r="3.8"/><circle cx="382.7" cy="108.0" r="3.8"/><circle cx="348.3" cy="111.2" r="3.8"/><circle cx="333.8" cy="106.0" r="3.8"/><circle cx="389.9" cy="104.2" r="3.8"/><circle cx="318.4" cy="118.2" r="3.8"/><circle cx="385.2" cy="103.3" r="3.8"/><circle cx="342.0" cy="107.8" r="3.8"/><circle cx="370.0" cy="99.3" r="3.8"/><circle cx="296.3" cy="98.9" r="3.8"/><circle cx="393.1" cy="97.0" r="3.8"/><circle cx="353.0" cy="98.5" r="3.8"/><circle cx="322.0" cy="97.8" r="3.8"/><circle cx="346.1" cy="97.7" r="3.8"/><circle cx="299.4" cy="96.1" r="3.8"/><circle cx="316.9" cy="106.7" r="3.8"/><circle cx="303.4" cy="93.6" r="3.8"/><circle cx="351.6" cy="104.4" r="3.8"/><circle cx="383.2" cy="94.4" r="3.8"/><circle cx="346.0" cy="104.1" r="3.8"/><circle cx="299.3" cy="120.0" r="3.8"/><circle cx="323.1" cy="95.6" r="3.8"/><circle cx="354.8" cy="97.6" r="3.8"/><circle cx="373.2" cy="102.7" r="3.8"/><circle cx="311.4" cy="94.5" r="3.8"/><circle cx="386.2" cy="100.7" r="3.8"/><circle cx="393.7" cy="106.0" r="3.8"/><circle cx="411.7" cy="101.4" r="3.8"/><circle cx="327.0" cy="100.4" r="3.8"/><circle cx="397.0" cy="110.6" r="3.8"/><circle cx="338.7" cy="95.6" r="3.8"/><circle cx="380.6" cy="120.1" r="3.8"/><circle cx="369.4" cy="93.1" r="3.8"/><circle cx="299.8" cy="95.5" r="3.8"/><circle cx="317.1" cy="94.0" r="3.8"/><circle cx="302.7" cy="111.3" r="3.8"/><circle cx="407.6" cy="98.6" r="3.8"/><circle cx="416.8" cy="106.4" r="3.8"/><circle cx="584.7" cy="140.0" r="3.8"/><circle cx="589.8" cy="87.1" r="3.8"/><circle cx="566.3" cy="121.4" r="3.8"/><circle cx="590.0" cy="90.3" r="3.8"/><circle cx="565.9" cy="136.0" r="3.8"/><circle cx="559.2" cy="108.4" r="3.8"/><circle cx="567.4" cy="125.8" r="3.8"/><circle cx="589.4" cy="95.5" r="3.8"/><circle cx="582.4" cy="129.0" r="3.8"/><circle cx="585.9" cy="118.2" r="3.8"/><circle cx="589.2" cy="106.8" r="3.8"/><circle cx="570.3" cy="98.8" r="3.8"/><circle cx="583.8" cy="113.8" r="3.8"/><circle cx="565.0" cy="95.2" r="3.8"/><circle cx="581.7" cy="121.3" r="3.8"/><circle cx="581.3" cy="108.2" r="3.8"/><circle cx="573.0" cy="94.2" r="3.8"/><circle cx="581.3" cy="86.4" r="3.8"/><circle cx="572.3" cy="130.5" r="3.8"/><circle cx="580.1" cy="90.8" r="3.8"/><circle cx="563.8" cy="135.6" r="3.8"/><circle cx="578.8" cy="137.7" r="3.8"/><circle cx="518.9" cy="110.8" r="3.8"/><circle cx="520.1" cy="117.6" r="3.8"/><circle cx="493.0" cy="108.9" r="3.8"/><circle cx="480.5" cy="109.6" r="3.8"/><circle cx="522.9" cy="102.5" r="3.8"/><circle cx="504.3" cy="102.6" r="3.8"/><circle cx="480.9" cy="115.6" r="3.8"/><circle cx="488.6" cy="101.2" r="3.8"/><circle cx="484.3" cy="115.5" r="3.8"/><circle cx="505.1" cy="100.3" r="3.8"/><circle cx="553.8" cy="65.4" r="3.8"/><circle cx="553.2" cy="58.6" r="3.8"/><circle cx="565.2" cy="62.3" r="3.8"/><circle cx="576.3" cy="62.4" r="3.8"/><circle cx="572.1" cy="52.2" r="3.8"/><circle cx="550.7" cy="50.3" r="3.8"/><circle cx="589.5" cy="50.9" r="3.8"/><circle cx="541.4" cy="65.4" r="3.8"/><circle cx="552.0" cy="64.2" r="3.8"/><circle cx="545.1" cy="56.9" r="3.8"/><circle cx="553.4" cy="63.1" r="3.8"/><circle cx="576.9" cy="59.9" r="3.8"/><circle cx="565.6" cy="169.2" r="3.8"/><circle cx="554.3" cy="163.3" r="3.8"/><circle cx="557.0" cy="152.4" r="3.8"/><circle cx="567.6" cy="163.1" r="3.8"/><circle cx="567.0" cy="154.5" r="3.8"/><circle cx="559.6" cy="160.2" r="3.8"/><circle cx="104.5" cy="68.1" r="3.8"/><circle cx="116.1" cy="69.2" r="3.8"/><circle cx="65.0" cy="85.5" r="3.8"/><circle cx="83.2" cy="94.5" r="3.8"/><circle cx="150.1" cy="77.1" r="3.8"/><circle cx="105.8" cy="88.5" r="3.8"/><circle cx="115.7" cy="89.4" r="3.8"/><circle cx="126.6" cy="89.4" r="3.8"/><circle cx="88.6" cy="100.3" r="3.8"/><circle cx="132.0" cy="94.0" r="3.8"/><circle cx="139.3" cy="91.3" r="3.8"/><circle cx="144.7" cy="89.4" r="3.8"/><circle cx="162.8" cy="85.8" r="3.8"/><circle cx="171.9" cy="86.7" r="3.8"/><circle cx="179.0" cy="88.5" r="3.8"/><circle cx="170.0" cy="94.9" r="3.8"/><circle cx="157.4" cy="97.6" r="3.8"/><circle cx="61.4" cy="94.0" r="3.8"/><circle cx="68.7" cy="99.4" r="3.8"/><circle cx="64.1" cy="125.3" r="3.8"/><circle cx="72.3" cy="125.3" r="3.8"/><circle cx="83.2" cy="126.2" r="3.8"/><circle cx="100.4" cy="127.2" r="3.8"/><circle cx="110.3" cy="129.0" r="3.8"/><circle cx="115.7" cy="125.3" r="3.8"/><circle cx="144.7" cy="125.3" r="3.8"/><circle cx="166.0" cy="121.7" r="3.8"/><circle cx="108.9" cy="146.2" r="3.8"/><circle cx="85.9" cy="165.5" r="3.8"/><circle cx="138.4" cy="119.9" r="3.8"/><circle cx="127.5" cy="122.6" r="3.8"/><circle cx="175.5" cy="119.9" r="3.8"/><circle cx="98.0" cy="118.0" r="3.8"/><circle cx="106.0" cy="126.0" r="3.8"/><circle cx="101.0" cy="127.5" r="3.8"/><circle cx="111.0" cy="92.0" r="3.8"/><circle cx="121.0" cy="95.0" r="3.8"/><circle cx="95.0" cy="104.0" r="3.8"/><circle cx="58.5" cy="104.0" r="3.8"/><circle cx="192.7" cy="58.7" r="3.8"/><circle cx="202.2" cy="56.5" r="3.8"/><circle cx="272.0" cy="69.5" r="3.8"/><circle cx="296.4" cy="53.2" r="3.8"/><circle cx="296.4" cy="75.0" r="3.8"/><circle cx="252.0" cy="79.5" r="3.8"/><circle cx="259.3" cy="83.1" r="3.8"/><circle cx="215.0" cy="85.0" r="3.8"/><circle cx="277.4" cy="88.5" r="3.8"/><circle cx="288.2" cy="93.0" r="3.8"/><circle cx="188.3" cy="155.2" r="3.8"/><circle cx="211.3" cy="158.8" r="3.8"/><circle cx="237.2" cy="167.9" r="3.8"/><circle cx="194.1" cy="130.8" r="3.8"/><circle cx="233.0" cy="124.4" r="3.8"/><circle cx="282.8" cy="126.2" r="3.8"/><circle cx="262.9" cy="126.2" r="3.8"/><circle cx="247.5" cy="117.2" r="3.8"/><circle cx="224.9" cy="115.4" r="3.8"/><circle cx="183.2" cy="121.7" r="3.8"/><circle cx="293.7" cy="121.7" r="3.8"/><circle cx="284.6" cy="118.1" r="3.8"/><circle cx="297.0" cy="71.0" r="3.8"/><circle cx="294.0" cy="62.0" r="3.8"/><circle cx="310.5" cy="49.6" r="3.8"/><circle cx="324.1" cy="48.7" r="3.8"/><circle cx="297.8" cy="53.2" r="3.8"/><circle cx="311.4" cy="65.9" r="3.8"/><circle cx="312.3" cy="71.3" r="3.8"/><circle cx="310.5" cy="75.0" r="3.8"/><circle cx="298.7" cy="73.2" r="3.8"/><circle cx="299.6" cy="79.5" r="3.8"/><circle cx="300.0" cy="58.0" r="3.8"/><circle cx="370.2" cy="62.3" r="3.8"/><circle cx="375.7" cy="56.9" r="3.8"/><circle cx="381.1" cy="56.0" r="3.8"/><circle cx="386.5" cy="57.8" r="3.8"/><circle cx="392.0" cy="58.7" r="3.8"/><circle cx="372.0" cy="58.7" r="3.8"/><circle cx="368.4" cy="64.1" r="3.8"/><circle cx="378.0" cy="60.0" r="3.8"/><circle cx="388.0" cy="61.0" r="3.8"/><circle cx="297.8" cy="94.9" r="3.8"/><circle cx="310.5" cy="96.7" r="3.8"/><circle cx="323.2" cy="94.0" r="3.8"/><circle cx="332.2" cy="98.5" r="3.8"/><circle cx="346.7" cy="90.4" r="3.8"/><circle cx="364.8" cy="95.8" r="3.8"/><circle cx="370.2" cy="98.5" r="3.8"/><circle cx="387.4" cy="94.0" r="3.8"/><circle cx="393.8" cy="100.3" r="3.8"/><circle cx="407.3" cy="96.7" r="3.8"/><circle cx="414.6" cy="97.6" r="3.8"/><circle cx="301.4" cy="104.0" r="3.8"/><circle cx="319.5" cy="105.7" r="3.8"/><circle cx="339.4" cy="105.7" r="3.8"/><circle cx="355.7" cy="107.5" r="3.8"/><circle cx="379.3" cy="107.5" r="3.8"/><circle cx="390.1" cy="105.7" r="3.8"/><circle cx="339.4" cy="130.8" r="3.8"/><circle cx="368.4" cy="129.9" r="3.8"/><circle cx="388.3" cy="121.7" r="3.8"/><circle cx="395.2" cy="123.5" r="3.8"/><circle cx="332.2" cy="120.8" r="3.8"/><circle cx="370.2" cy="119.0" r="3.8"/><circle cx="403.7" cy="113.6" r="3.8"/><circle cx="409.1" cy="112.7" r="3.8"/><circle cx="417.3" cy="114.5" r="3.8"/><circle cx="394.7" cy="112.7" r="3.8"/><circle cx="299.6" cy="123.5" r="3.8"/><circle cx="314.1" cy="119.9" r="3.8"/><circle cx="311.4" cy="167.9" r="3.8"/><circle cx="318.6" cy="160.6" r="3.8"/><circle cx="315.0" cy="164.3" r="3.8"/><circle cx="326.8" cy="164.3" r="3.8"/><circle cx="327.7" cy="169.7" r="3.8"/><circle cx="341.3" cy="162.5" r="3.8"/><circle cx="346.7" cy="167.9" r="3.8"/><circle cx="367.5" cy="167.0" r="3.8"/><circle cx="363.0" cy="169.7" r="3.8"/><circle cx="377.5" cy="167.9" r="3.8"/><circle cx="386.5" cy="164.3" r="3.8"/><circle cx="391.0" cy="161.5" r="3.8"/><circle cx="401.0" cy="163.4" r="3.8"/><circle cx="401.9" cy="169.7" r="3.8"/><circle cx="390.1" cy="169.7" r="3.8"/><circle cx="481.2" cy="62.7" r="3.8"/><circle cx="497.5" cy="62.7" r="3.8"/><circle cx="513.8" cy="54.1" r="3.8"/><circle cx="517.4" cy="47.8" r="3.8"/><circle cx="520.1" cy="62.3" r="3.8"/><circle cx="524.6" cy="58.7" r="3.8"/><circle cx="539.1" cy="55.0" r="3.8"/><circle cx="511.0" cy="77.7" r="3.8"/><circle cx="506.5" cy="82.2" r="3.8"/><circle cx="510.1" cy="89.4" r="3.8"/><circle cx="521.0" cy="82.2" r="3.8"/><circle cx="519.2" cy="84.9" r="3.8"/><circle cx="537.3" cy="86.7" r="3.8"/><circle cx="530.0" cy="94.0" r="3.8"/><circle cx="525.5" cy="99.4" r="3.8"/><circle cx="539.1" cy="103.0" r="3.8"/><circle cx="516.0" cy="50.0" r="3.8"/><circle cx="515.0" cy="58.0" r="3.8"/><circle cx="482.1" cy="88.5" r="3.8"/><circle cx="486.6" cy="93.1" r="3.8"/><circle cx="495.7" cy="88.5" r="3.8"/><circle cx="499.3" cy="87.6" r="3.8"/><circle cx="492.0" cy="98.5" r="3.8"/><circle cx="499.3" cy="96.7" r="3.8"/><circle cx="477.5" cy="100.3" r="3.8"/><circle cx="479.4" cy="94.9" r="3.8"/><circle cx="488.4" cy="100.3" r="3.8"/><circle cx="424.1" cy="93.1" r="3.8"/><circle cx="427.8" cy="90.4" r="3.8"/><circle cx="433.2" cy="94.0" r="3.8"/><circle cx="432.3" cy="99.4" r="3.8"/><circle cx="423.2" cy="97.6" r="3.8"/><circle cx="417.0" cy="96.7" r="3.8"/><circle cx="448.6" cy="99.4" r="3.8"/><circle cx="460.4" cy="98.5" r="3.8"/><circle cx="462.2" cy="106.6" r="3.8"/><circle cx="470.3" cy="107.5" r="3.8"/><circle cx="443.2" cy="110.3" r="3.8"/><circle cx="487.5" cy="110.3" r="3.8"/><circle cx="504.7" cy="107.5" r="3.8"/><circle cx="530.0" cy="109.4" r="3.8"/><circle cx="442.8" cy="111.2" r="3.8"/><circle cx="427.8" cy="118.1" r="3.8"/><circle cx="428.7" cy="122.6" r="3.8"/><circle cx="417.8" cy="114.5" r="3.8"/><circle cx="462.2" cy="106.9" r="3.8"/><circle cx="460.4" cy="117.2" r="3.8"/><circle cx="470.3" cy="108.1" r="3.8"/><circle cx="473.9" cy="118.1" r="3.8"/><circle cx="466.7" cy="114.5" r="3.8"/><circle cx="488.4" cy="110.9" r="3.8"/><circle cx="490.2" cy="115.4" r="3.8"/><circle cx="493.8" cy="121.7" r="3.8"/><circle cx="499.3" cy="113.6" r="3.8"/><circle cx="504.7" cy="107.2" r="3.8"/><circle cx="506.5" cy="118.1" r="3.8"/><circle cx="515.6" cy="121.7" r="3.8"/><circle cx="521.0" cy="115.4" r="3.8"/><circle cx="530.0" cy="110.0" r="3.8"/><circle cx="533.7" cy="122.6" r="3.8"/><circle cx="539.1" cy="132.6" r="3.8"/><circle cx="539.1" cy="144.4" r="3.8"/><circle cx="461.3" cy="164.3" r="3.8"/><circle cx="453.1" cy="167.0" r="3.8"/><circle cx="441.3" cy="168.8" r="3.8"/><circle cx="439.5" cy="172.4" r="3.8"/><circle cx="445.9" cy="173.3" r="3.8"/><circle cx="539.6" cy="55.0" r="3.8"/><circle cx="546.9" cy="56.9" r="3.8"/><circle cx="553.2" cy="49.6" r="3.8"/><circle cx="557.7" cy="54.1" r="3.8"/><circle cx="563.2" cy="51.4" r="3.8"/><circle cx="555.0" cy="57.8" r="3.8"/><circle cx="567.7" cy="59.6" r="3.8"/><circle cx="571.3" cy="63.2" r="3.8"/><circle cx="575.8" cy="58.7" r="3.8"/><circle cx="581.3" cy="60.5" r="3.8"/><circle cx="585.8" cy="64.1" r="3.8"/><circle cx="590.3" cy="55.0" r="3.8"/><circle cx="593.9" cy="62.3" r="3.8"/><circle cx="596.6" cy="67.7" r="3.8"/><circle cx="583.1" cy="69.5" r="3.8"/><circle cx="579.4" cy="73.2" r="3.8"/><circle cx="572.2" cy="75.0" r="3.8"/><circle cx="568.6" cy="64.1" r="3.8"/><circle cx="555.9" cy="71.3" r="3.8"/><circle cx="564.1" cy="79.5" r="3.8"/><circle cx="585.8" cy="72.2" r="3.8"/><circle cx="574.9" cy="68.6" r="3.8"/><circle cx="541.4" cy="85.8" r="3.8"/><circle cx="549.6" cy="89.4" r="3.8"/><circle cx="549.6" cy="94.0" r="3.8"/><circle cx="555.9" cy="92.2" r="3.8"/><circle cx="559.5" cy="96.7" r="3.8"/><circle cx="554.1" cy="97.6" r="3.8"/><circle cx="571.3" cy="90.4" r="3.8"/><circle cx="570.4" cy="98.5" r="3.8"/><circle cx="584.9" cy="94.0" r="3.8"/><circle cx="584.0" cy="100.3" r="3.8"/><circle cx="588.5" cy="103.9" r="3.8"/><circle cx="539.6" cy="103.0" r="3.8"/><circle cx="602.1" cy="103.0" r="3.8"/><circle cx="607.5" cy="97.6" r="3.8"/><circle cx="537.8" cy="85.8" r="3.8"/><circle cx="568.6" cy="103.0" r="3.8"/><circle cx="579.4" cy="107.5" r="3.8"/><circle cx="559.5" cy="110.3" r="3.8"/><circle cx="541.4" cy="117.2" r="3.8"/><circle cx="540.5" cy="103.6" r="3.8"/><circle cx="558.6" cy="110.9" r="3.8"/><circle cx="563.2" cy="113.6" r="3.8"/><circle cx="568.6" cy="115.4" r="3.8"/><circle cx="574.0" cy="110.9" r="3.8"/><circle cx="581.3" cy="117.2" r="3.8"/><circle cx="586.7" cy="113.6" r="3.8"/><circle cx="586.7" cy="103.6" r="3.8"/><circle cx="560.4" cy="121.7" r="3.8"/><circle cx="568.6" cy="121.7" r="3.8"/><circle cx="553.2" cy="126.2" r="3.8"/><circle cx="566.8" cy="127.2" r="3.8"/><circle cx="572.2" cy="129.0" r="3.8"/><circle cx="577.6" cy="129.9" r="3.8"/><circle cx="538.7" cy="132.6" r="3.8"/><circle cx="547.8" cy="135.3" r="3.8"/><circle cx="553.2" cy="138.9" r="3.8"/><circle cx="558.6" cy="143.4" r="3.8"/><circle cx="565.0" cy="144.4" r="3.8"/><circle cx="540.5" cy="144.4" r="3.8"/><circle cx="546.9" cy="148.9" r="3.8"/><circle cx="547.8" cy="158.8" r="3.8"/><circle cx="555.9" cy="157.9" r="3.8"/><circle cx="559.5" cy="161.5" r="3.8"/><circle cx="563.2" cy="166.1" r="3.8"/><circle cx="568.6" cy="164.3" r="3.8"/><circle cx="602.1" cy="103.6" r="3.8"/><circle cx="603.9" cy="113.6" r="3.8"/><circle cx="607.5" cy="117.2" r="3.8"/><circle cx="610.2" cy="157.9" r="3.8"/><circle cx="611.1" cy="154.3" r="3.8"/><circle cx="621.1" cy="155.2" r="3.8"/><circle cx="624.7" cy="158.8" r="3.8"/><circle cx="610.2" cy="172.4" r="3.8"/></g>
<rect x="57.5" y="48" width="600.0" height="126.5" fill="none" stroke="#000" stroke-width="1.5"/>
<line x1="57.5" y1="48" x2="57.5" y2="41.5" stroke="#000" stroke-width="1.5"/>
<line x1="57.5" y1="174.5" x2="57.5" y2="181.0" stroke="#000" stroke-width="1.5"/>
<line x1="117.5" y1="48" x2="117.5" y2="41.5" stroke="#000" stroke-width="1.5"/>
<line x1="117.5" y1="174.5" x2="117.5" y2="181.0" stroke="#000" stroke-width="1.5"/>
<line x1="177.5" y1="48" x2="177.5" y2="41.5" stroke="#000" stroke-width="1.5"/>
<line x1="177.5" y1="174.5" x2="177.5" y2="181.0" stroke="#000" stroke-width="1.5"/>
<line x1="237.5" y1="48" x2="237.5" y2="41.5" stroke="#000" stroke-width="1.5"/>
<line x1="237.5" y1="174.5" x2="237.5" y2="181.0" stroke="#000" stroke-width="1.5"/>
<line x1="297.5" y1="48" x2="297.5" y2="41.5" stroke="#000" stroke-width="1.5"/>
<line x1="297.5" y1="174.5" x2="297.5" y2="181.0" stroke="#000" stroke-width="1.5"/>
<line x1="357.5" y1="48" x2="357.5" y2="41.5" stroke="#000" stroke-width="1.5"/>
<line x1="357.5" y1="174.5" x2="357.5" y2="181.0" stroke="#000" stroke-width="1.5"/>
<line x1="417.5" y1="48" x2="417.5" y2="41.5" stroke="#000" stroke-width="1.5"/>
<line x1="417.5" y1="174.5" x2="417.5" y2="181.0" stroke="#000" stroke-width="1.5"/>
<line x1="477.5" y1="48" x2="477.5" y2="41.5" stroke="#000" stroke-width="1.5"/>
<line x1="477.5" y1="174.5" x2="477.5" y2="181.0" stroke="#000" stroke-width="1.5"/>
<line x1="537.5" y1="48" x2="537.5" y2="41.5" stroke="#000" stroke-width="1.5"/>
<line x1="537.5" y1="174.5" x2="537.5" y2="181.0" stroke="#000" stroke-width="1.5"/>
<line x1="597.5" y1="48" x2="597.5" y2="41.5" stroke="#000" stroke-width="1.5"/>
<line x1="597.5" y1="174.5" x2="597.5" y2="181.0" stroke="#000" stroke-width="1.5"/>
<line x1="657.5" y1="48" x2="657.5" y2="41.5" stroke="#000" stroke-width="1.5"/>
<line x1="657.5" y1="174.5" x2="657.5" y2="181.0" stroke="#000" stroke-width="1.5"/>
<line x1="57.5" y1="48.0" x2="51.0" y2="48.0" stroke="#000" stroke-width="1.5"/>
<line x1="657.5" y1="48.0" x2="664.0" y2="48.0" stroke="#000" stroke-width="1.5"/>
<line x1="57.5" y1="79.625" x2="51.0" y2="79.625" stroke="#000" stroke-width="1.5"/>
<line x1="657.5" y1="79.625" x2="664.0" y2="79.625" stroke="#000" stroke-width="1.5"/>
<line x1="57.5" y1="111.25" x2="51.0" y2="111.25" stroke="#000" stroke-width="1.5"/>
<line x1="657.5" y1="111.25" x2="664.0" y2="111.25" stroke="#000" stroke-width="1.5"/>
<line x1="57.5" y1="142.875" x2="51.0" y2="142.875" stroke="#000" stroke-width="1.5"/>
<line x1="657.5" y1="142.875" x2="664.0" y2="142.875" stroke="#000" stroke-width="1.5"/>
<line x1="57.5" y1="174.5" x2="51.0" y2="174.5" stroke="#000" stroke-width="1.5"/>
<line x1="657.5" y1="174.5" x2="664.0" y2="174.5" stroke="#000" stroke-width="1.5"/>
<text x="57.5" y="203.6" font-size="19.5" text-anchor="middle" font-weight="normal" >180°</text>
<text x="177.5" y="203.6" font-size="19.5" text-anchor="middle" font-weight="normal" >160°W</text>
<text x="297.5" y="203.6" font-size="19.5" text-anchor="middle" font-weight="normal" >140°W</text>
<text x="417.5" y="203.6" font-size="19.5" text-anchor="middle" font-weight="normal" >120°W</text>
<text x="537.5" y="203.6" font-size="19.5" text-anchor="middle" font-weight="normal" >100°W</text>
<text x="657.5" y="203.6" font-size="19.5" text-anchor="middle" font-weight="normal" >80°W</text>
<text x="44.3" y="54.5" font-size="19.5" text-anchor="end" font-weight="normal" >10°N</text>
<text x="44.3" y="118" font-size="19.5" text-anchor="end" font-weight="normal" >0</text>
<text x="44.3" y="181" font-size="19.5" text-anchor="end" font-weight="normal" >10°S</text>
<text x="2" y="24.3" font-size="28" text-anchor="start" font-weight="bold" >a</text>
<defs><linearGradient id="cb" x1="0" x2="1" y1="0" y2="0"><stop offset="0.0000" stop-color="#f8f8fe"/><stop offset="0.0400" stop-color="#e4e6fa"/><stop offset="0.0800" stop-color="#c8cef6"/><stop offset="0.1050" stop-color="#aab6f4"/><stop offset="0.1150" stop-color="#4a6cf0"/><stop offset="0.1750" stop-color="#3a84f0"/><stop offset="0.2500" stop-color="#2aa6ee"/><stop offset="0.3750" stop-color="#10d8dc"/><stop offset="0.4500" stop-color="#40e8a0"/><stop offset="0.5000" stop-color="#70e870"/><stop offset="0.6000" stop-color="#e8f020"/><stop offset="0.6500" stop-color="#f8e000"/><stop offset="0.7500" stop-color="#ffb000"/><stop offset="0.8750" stop-color="#ff7a00"/><stop offset="1.0000" stop-color="#f01818"/></linearGradient></defs>
<rect x="321.5" y="31.5" width="209.0" height="8.200000000000003" fill="url(#cb)" stroke="#000" stroke-width="1.5"/>
<text x="321.5" y="26.3" font-size="19.5" text-anchor="middle" font-weight="normal" >0</text>
<text x="373.75" y="26.3" font-size="19.5" text-anchor="middle" font-weight="normal" >5</text>
<line x1="373.75" y1="31.5" x2="373.75" y2="34.0" stroke="#000" stroke-width="1.2"/>
<text x="426.0" y="26.3" font-size="19.5" text-anchor="middle" font-weight="normal" >10</text>
<line x1="426.0" y1="31.5" x2="426.0" y2="34.0" stroke="#000" stroke-width="1.2"/>
<text x="478.25" y="26.3" font-size="19.5" text-anchor="middle" font-weight="normal" >15</text>
<line x1="478.25" y1="31.5" x2="478.25" y2="34.0" stroke="#000" stroke-width="1.2"/>
<text x="530.5" y="26.3" font-size="19.5" text-anchor="middle" font-weight="normal" >20%</text>
<rect x="172.3" y="237.2" width="364.2" height="146.3" fill="none" stroke="#000" stroke-width="1.5"/>
<g fill="#f6a482"><rect x="171.7" y="273.2" width="3.0" height="39.8"/><rect x="173.8" y="286.9" width="3.0" height="67.1"/><rect x="176.7" y="273.2" width="3.0" height="42.5"/><rect x="179.7" y="284.9" width="3.0" height="69.9"/><rect x="182.9" y="267.1" width="3.0" height="56.2"/><rect x="184.8" y="270.8" width="3.0" height="38.6"/><rect x="187.1" y="277.0" width="3.0" height="92.0"/><rect x="189.6" y="268.9" width="3.0" height="101.1"/><rect x="191.7" y="303.0" width="3.0" height="51.4"/><rect x="194.3" y="268.2" width="3.0" height="79.6"/><rect x="197.3" y="270.0" width="3.0" height="70.3"/><rect x="200.0" y="280.7" width="3.0" height="81.5"/><rect x="203.1" y="295.3" width="3.0" height="68.6"/><rect x="206.4" y="275.1" width="3.0" height="52.9"/><rect x="209.6" y="269.2" width="3.0" height="44.6"/><rect x="212.7" y="271.3" width="3.0" height="96.8"/><rect x="214.9" y="312.8" width="3.0" height="47.1"/><rect x="217.4" y="265.9" width="3.0" height="94.4"/><rect x="220.0" y="286.9" width="3.0" height="56.2"/><rect x="221.9" y="315.4" width="3.0" height="45.7"/><rect x="225.9" y="280.5" width="3.0" height="72.1"/><rect x="228.2" y="310.3" width="3.0" height="57.7"/><rect x="229.7" y="297.2" width="3.0" height="40.3"/><rect x="233.5" y="311.1" width="3.0" height="50.6"/><rect x="235.5" y="283.5" width="3.0" height="61.1"/><rect x="238.4" y="276.2" width="3.0" height="38.0"/><rect x="241.4" y="275.0" width="3.0" height="50.5"/><rect x="243.5" y="291.5" width="3.0" height="67.7"/><rect x="246.6" y="282.0" width="3.0" height="74.1"/><rect x="247.9" y="279.8" width="3.0" height="80.6"/><rect x="251.3" y="321.4" width="3.0" height="29.4"/><rect x="253.4" y="284.8" width="3.0" height="40.9"/><rect x="256.7" y="287.2" width="3.0" height="60.2"/><rect x="258.2" y="271.0" width="3.0" height="77.9"/><rect x="259.6" y="286.2" width="3.0" height="63.1"/><rect x="262.2" y="267.6" width="3.0" height="67.3"/><rect x="264.6" y="265.0" width="3.0" height="86.0"/><rect x="267.8" y="302.7" width="3.0" height="35.2"/><rect x="269.9" y="270.9" width="3.0" height="43.4"/><rect x="273.1" y="283.7" width="3.0" height="51.3"/><rect x="274.3" y="260.5" width="3.0" height="49.7"/><rect x="277.1" y="306.3" width="3.0" height="45.5"/><rect x="279.4" y="263.0" width="3.0" height="49.1"/><rect x="282.4" y="268.3" width="3.0" height="94.9"/><rect x="284.7" y="295.1" width="3.0" height="67.9"/><rect x="287.4" y="288.6" width="3.0" height="30.0"/><rect x="291.3" y="279.6" width="3.0" height="63.0"/><rect x="293.5" y="260.4" width="3.0" height="71.4"/><rect x="296.0" y="272.7" width="3.0" height="38.5"/><rect x="297.4" y="281.3" width="3.0" height="74.7"/><rect x="299.4" y="279.8" width="3.0" height="67.3"/><rect x="300.7" y="273.9" width="3.0" height="29.2"/><rect x="302.9" y="298.0" width="3.0" height="61.3"/><rect x="305.8" y="275.2" width="3.0" height="61.1"/><rect x="308.8" y="302.5" width="3.0" height="26.1"/><rect x="312.5" y="274.5" width="3.0" height="56.4"/><rect x="313.2" y="263.0" width="3.0" height="70.8"/><rect x="315.0" y="263.3" width="3.0" height="64.6"/><rect x="316.8" y="268.1" width="3.0" height="34.7"/><rect x="318.3" y="277.5" width="3.0" height="48.9"/><rect x="320.7" y="277.5" width="3.0" height="60.4"/><rect x="325.3" y="260.0" width="3.0" height="72.7"/><rect x="327.0" y="261.2" width="3.0" height="71.1"/><rect x="327.9" y="286.0" width="3.0" height="19.7"/><rect x="329.9" y="258.1" width="3.0" height="64.6"/><rect x="332.2" y="278.3" width="3.0" height="36.6"/><rect x="335.2" y="287.0" width="3.0" height="34.6"/><rect x="337.3" y="258.5" width="3.0" height="37.5"/><rect x="339.4" y="269.3" width="3.0" height="37.4"/><rect x="342.9" y="263.9" width="3.0" height="69.2"/><rect x="344.4" y="283.1" width="3.0" height="26.1"/><rect x="348.1" y="269.1" width="3.0" height="53.5"/><rect x="349.6" y="273.2" width="3.0" height="49.8"/><rect x="352.3" y="261.0" width="3.0" height="51.2"/><rect x="354.5" y="273.7" width="3.0" height="33.6"/><rect x="358.3" y="267.6" width="3.0" height="44.5"/><rect x="359.7" y="269.8" width="3.0" height="19.5"/><rect x="361.0" y="265.4" width="3.0" height="43.6"/><rect x="365.6" y="253.5" width="3.0" height="46.3"/><rect x="367.0" y="262.5" width="3.0" height="51.8"/><rect x="370.0" y="258.7" width="3.0" height="24.7"/><rect x="374.3" y="254.7" width="3.0" height="44.5"/><rect x="377.0" y="261.9" width="3.0" height="34.4"/><rect x="379.1" y="270.2" width="3.0" height="41.2"/><rect x="383.8" y="263.0" width="3.0" height="60.2"/><rect x="387.8" y="259.2" width="3.0" height="59.8"/><rect x="390.3" y="252.7" width="3.0" height="67.4"/><rect x="393.1" y="271.6" width="3.0" height="34.1"/><rect x="398.2" y="259.2" width="3.0" height="37.1"/><rect x="401.6" y="256.1" width="3.0" height="51.5"/><rect x="406.7" y="256.8" width="3.0" height="56.6"/><rect x="411.3" y="252.4" width="3.0" height="50.2"/><rect x="415.1" y="258.3" width="3.0" height="58.5"/><rect x="418.7" y="278.5" width="3.0" height="38.3"/><rect x="422.0" y="277.7" width="3.0" height="36.2"/><rect x="426.7" y="270.9" width="3.0" height="48.3"/><rect x="429.0" y="259.2" width="3.0" height="57.3"/><rect x="435.4" y="257.1" width="3.0" height="21.1"/><rect x="442.3" y="250.7" width="3.0" height="27.8"/><rect x="447.4" y="255.7" width="3.0" height="21.6"/><rect x="450.1" y="254.5" width="3.0" height="41.7"/><rect x="452.9" y="268.4" width="3.0" height="18.0"/><rect x="455.8" y="250.0" width="3.0" height="28.4"/><rect x="458.3" y="260.5" width="3.0" height="32.1"/><rect x="461.8" y="259.3" width="3.0" height="25.7"/><rect x="463.7" y="257.1" width="3.0" height="26.3"/><rect x="466.2" y="251.6" width="3.0" height="24.8"/><rect x="469.1" y="250.5" width="3.0" height="40.3"/><rect x="473.5" y="265.9" width="3.0" height="36.0"/><rect x="474.4" y="248.7" width="3.0" height="52.5"/><rect x="478.5" y="248.0" width="3.0" height="43.6"/><rect x="479.7" y="259.6" width="3.0" height="31.7"/><rect x="484.1" y="256.7" width="3.0" height="26.0"/><rect x="484.6" y="252.0" width="3.0" height="22.7"/><rect x="488.6" y="248.0" width="3.0" height="42.3"/><rect x="489.3" y="247.0" width="3.0" height="54.8"/><rect x="491.8" y="257.1" width="3.0" height="39.4"/><rect x="493.7" y="246.4" width="3.0" height="30.7"/><rect x="497.1" y="259.2" width="3.0" height="43.6"/><rect x="498.9" y="264.5" width="3.0" height="23.9"/><rect x="502.1" y="246.9" width="3.0" height="55.6"/><rect x="505.0" y="247.8" width="3.0" height="28.2"/><rect x="508.1" y="262.5" width="3.0" height="27.7"/><rect x="511.6" y="253.9" width="3.0" height="32.2"/><rect x="513.4" y="253.8" width="3.0" height="32.3"/><rect x="516.1" y="249.9" width="3.0" height="38.6"/><rect x="519.6" y="251.5" width="3.0" height="45.9"/><rect x="520.8" y="270.3" width="3.0" height="15.1"/><rect x="524.6" y="252.9" width="3.0" height="35.4"/><rect x="526.1" y="248.8" width="3.0" height="26.7"/><rect x="528.7" y="248.8" width="3.0" height="40.1"/><rect x="531.9" y="243.2" width="3.0" height="39.2"/><rect x="533.0" y="263.5" width="3.0" height="25.4"/></g><g fill="#2e8b57"><rect x="170.9" y="303.4" width="4.6" height="7.6"/><rect x="170.9" y="293.1" width="4.6" height="7.6"/><rect x="170.9" y="295.6" width="4.6" height="7.6"/><rect x="173.0" y="289.5" width="4.6" height="7.6"/><rect x="173.0" y="301.9" width="4.6" height="7.6"/><rect x="173.0" y="316.5" width="4.6" height="7.6"/><rect x="175.9" y="295.1" width="4.6" height="7.6"/><rect x="175.9" y="298.6" width="4.6" height="7.6"/><rect x="175.9" y="292.2" width="4.6" height="7.6"/><rect x="178.9" y="333.9" width="4.6" height="7.6"/><rect x="178.9" y="319.0" width="4.6" height="7.6"/><rect x="178.9" y="294.1" width="4.6" height="7.6"/><rect x="182.1" y="297.9" width="4.6" height="7.6"/><rect x="182.1" y="274.7" width="4.6" height="7.6"/><rect x="182.1" y="292.6" width="4.6" height="7.6"/><rect x="182.1" y="303.9" width="4.6" height="7.6"/><rect x="182.1" y="284.2" width="4.6" height="7.6"/><rect x="184.0" y="294.8" width="4.6" height="7.6"/><rect x="184.0" y="283.5" width="4.6" height="7.6"/><rect x="184.0" y="273.8" width="4.6" height="7.6"/><rect x="186.3" y="321.3" width="4.6" height="7.6"/><rect x="186.3" y="286.8" width="4.6" height="7.6"/><rect x="186.3" y="319.7" width="4.6" height="7.6"/><rect x="186.3" y="294.0" width="4.6" height="7.6"/><rect x="186.3" y="311.7" width="4.6" height="7.6"/><rect x="188.8" y="300.1" width="4.6" height="7.6"/><rect x="188.8" y="316.4" width="4.6" height="7.6"/><rect x="188.8" y="340.5" width="4.6" height="7.6"/><rect x="190.9" y="305.7" width="4.6" height="7.6"/><rect x="190.9" y="308.7" width="4.6" height="7.6"/><rect x="190.9" y="326.1" width="4.6" height="7.6"/><rect x="193.5" y="323.6" width="4.6" height="7.6"/><rect x="193.5" y="328.9" width="4.6" height="7.6"/><rect x="193.5" y="287.5" width="4.6" height="7.6"/><rect x="193.5" y="283.6" width="4.6" height="7.6"/><rect x="193.5" y="324.2" width="4.6" height="7.6"/><rect x="196.5" y="305.5" width="4.6" height="7.6"/><rect x="196.5" y="311.6" width="4.6" height="7.6"/><rect x="196.5" y="321.4" width="4.6" height="7.6"/><rect x="196.5" y="286.3" width="4.6" height="7.6"/><rect x="199.2" y="307.6" width="4.6" height="7.6"/><rect x="199.2" y="338.1" width="4.6" height="7.6"/><rect x="199.2" y="286.8" width="4.6" height="7.6"/><rect x="199.2" y="293.0" width="4.6" height="7.6"/><rect x="202.3" y="337.5" width="4.6" height="7.6"/><rect x="202.3" y="317.4" width="4.6" height="7.6"/><rect x="202.3" y="299.3" width="4.6" height="7.6"/><rect x="205.6" y="276.3" width="4.6" height="7.6"/><rect x="205.6" y="311.6" width="4.6" height="7.6"/><rect x="205.6" y="304.9" width="4.6" height="7.6"/><rect x="205.6" y="276.1" width="4.6" height="7.6"/><rect x="208.8" y="275.2" width="4.6" height="7.6"/><rect x="208.8" y="298.7" width="4.6" height="7.6"/><rect x="208.8" y="300.9" width="4.6" height="7.6"/><rect x="208.8" y="303.0" width="4.6" height="7.6"/><rect x="211.9" y="335.3" width="4.6" height="7.6"/><rect x="211.9" y="328.5" width="4.6" height="7.6"/><rect x="211.9" y="307.3" width="4.6" height="7.6"/><rect x="211.9" y="296.9" width="4.6" height="7.6"/><rect x="214.1" y="337.5" width="4.6" height="7.6"/><rect x="214.1" y="337.1" width="4.6" height="7.6"/><rect x="214.1" y="323.2" width="4.6" height="7.6"/><rect x="214.1" y="335.0" width="4.6" height="7.6"/><rect x="216.6" y="334.3" width="4.6" height="7.6"/><rect x="216.6" y="302.9" width="4.6" height="7.6"/><rect x="216.6" y="305.4" width="4.6" height="7.6"/><rect x="216.6" y="330.4" width="4.6" height="7.6"/><rect x="216.6" y="341.3" width="4.6" height="7.6"/><rect x="219.2" y="294.8" width="4.6" height="7.6"/><rect x="219.2" y="294.7" width="4.6" height="7.6"/><rect x="219.2" y="303.4" width="4.6" height="7.6"/><rect x="221.1" y="325.8" width="4.6" height="7.6"/><rect x="221.1" y="318.9" width="4.6" height="7.6"/><rect x="221.1" y="346.0" width="4.6" height="7.6"/><rect x="221.1" y="323.9" width="4.6" height="7.6"/><rect x="221.1" y="323.9" width="4.6" height="7.6"/><rect x="221.1" y="342.1" width="4.6" height="7.6"/><rect x="225.1" y="298.5" width="4.6" height="7.6"/><rect x="225.1" y="308.0" width="4.6" height="7.6"/><rect x="225.1" y="321.4" width="4.6" height="7.6"/><rect x="225.1" y="319.8" width="4.6" height="7.6"/><rect x="225.1" y="336.2" width="4.6" height="7.6"/><rect x="225.1" y="344.7" width="4.6" height="7.6"/><rect x="227.4" y="312.2" width="4.6" height="7.6"/><rect x="227.4" y="334.5" width="4.6" height="7.6"/><rect x="227.4" y="321.4" width="4.6" height="7.6"/><rect x="228.9" y="314.0" width="4.6" height="7.6"/><rect x="228.9" y="300.6" width="4.6" height="7.6"/><rect x="228.9" y="318.6" width="4.6" height="7.6"/><rect x="232.7" y="326.4" width="4.6" height="7.6"/><rect x="232.7" y="342.7" width="4.6" height="7.6"/><rect x="232.7" y="327.4" width="4.6" height="7.6"/><rect x="232.7" y="344.0" width="4.6" height="7.6"/><rect x="234.7" y="297.6" width="4.6" height="7.6"/><rect x="234.7" y="296.6" width="4.6" height="7.6"/><rect x="234.7" y="295.2" width="4.6" height="7.6"/><rect x="234.7" y="303.9" width="4.6" height="7.6"/><rect x="237.6" y="289.6" width="4.6" height="7.6"/><rect x="237.6" y="286.7" width="4.6" height="7.6"/><rect x="237.6" y="294.9" width="4.6" height="7.6"/><rect x="237.6" y="296.9" width="4.6" height="7.6"/><rect x="237.6" y="299.9" width="4.6" height="7.6"/><rect x="240.6" y="314.3" width="4.6" height="7.6"/><rect x="240.6" y="310.9" width="4.6" height="7.6"/><rect x="240.6" y="281.0" width="4.6" height="7.6"/><rect x="240.6" y="316.3" width="4.6" height="7.6"/><rect x="240.6" y="300.1" width="4.6" height="7.6"/><rect x="240.6" y="297.3" width="4.6" height="7.6"/><rect x="242.7" y="305.5" width="4.6" height="7.6"/><rect x="242.7" y="304.6" width="4.6" height="7.6"/><rect x="242.7" y="332.7" width="4.6" height="7.6"/><rect x="245.8" y="287.0" width="4.6" height="7.6"/><rect x="245.8" y="324.2" width="4.6" height="7.6"/><rect x="245.8" y="282.8" width="4.6" height="7.6"/><rect x="247.1" y="310.8" width="4.6" height="7.6"/><rect x="247.1" y="346.1" width="4.6" height="7.6"/><rect x="247.1" y="345.0" width="4.6" height="7.6"/><rect x="247.1" y="299.1" width="4.6" height="7.6"/><rect x="247.1" y="346.1" width="4.6" height="7.6"/><rect x="250.5" y="334.5" width="4.6" height="7.6"/><rect x="250.5" y="340.7" width="4.6" height="7.6"/><rect x="250.5" y="332.2" width="4.6" height="7.6"/><rect x="250.5" y="321.9" width="4.6" height="7.6"/><rect x="250.5" y="336.2" width="4.6" height="7.6"/><rect x="252.6" y="312.7" width="4.6" height="7.6"/><rect x="252.6" y="308.5" width="4.6" height="7.6"/><rect x="252.6" y="293.2" width="4.6" height="7.6"/><rect x="252.6" y="318.0" width="4.6" height="7.6"/><rect x="252.6" y="315.6" width="4.6" height="7.6"/><rect x="255.9" y="310.2" width="4.6" height="7.6"/><rect x="255.9" y="328.5" width="4.6" height="7.6"/><rect x="255.9" y="329.9" width="4.6" height="7.6"/><rect x="255.9" y="325.1" width="4.6" height="7.6"/><rect x="257.4" y="283.9" width="4.6" height="7.6"/><rect x="257.4" y="292.3" width="4.6" height="7.6"/><rect x="257.4" y="299.4" width="4.6" height="7.6"/><rect x="257.4" y="309.4" width="4.6" height="7.6"/><rect x="257.4" y="315.1" width="4.6" height="7.6"/><rect x="258.8" y="308.2" width="4.6" height="7.6"/><rect x="258.8" y="290.9" width="4.6" height="7.6"/><rect x="258.8" y="302.6" width="4.6" height="7.6"/><rect x="258.8" y="331.8" width="4.6" height="7.6"/><rect x="258.8" y="305.9" width="4.6" height="7.6"/><rect x="261.4" y="276.4" width="4.6" height="7.6"/><rect x="261.4" y="293.6" width="4.6" height="7.6"/><rect x="261.4" y="318.8" width="4.6" height="7.6"/><rect x="261.4" y="278.3" width="4.6" height="7.6"/><rect x="261.4" y="325.5" width="4.6" height="7.6"/><rect x="263.8" y="319.8" width="4.6" height="7.6"/><rect x="263.8" y="303.4" width="4.6" height="7.6"/><rect x="263.8" y="275.7" width="4.6" height="7.6"/><rect x="263.8" y="319.8" width="4.6" height="7.6"/><rect x="263.8" y="311.2" width="4.6" height="7.6"/><rect x="263.8" y="310.0" width="4.6" height="7.6"/><rect x="267.0" y="324.5" width="4.6" height="7.6"/><rect x="267.0" y="330.2" width="4.6" height="7.6"/><rect x="267.0" y="320.5" width="4.6" height="7.6"/><rect x="267.0" y="317.2" width="4.6" height="7.6"/><rect x="269.1" y="273.8" width="4.6" height="7.6"/><rect x="269.1" y="304.0" width="4.6" height="7.6"/><rect x="269.1" y="295.8" width="4.6" height="7.6"/><rect x="269.1" y="295.3" width="4.6" height="7.6"/><rect x="272.3" y="293.8" width="4.6" height="7.6"/><rect x="272.3" y="288.5" width="4.6" height="7.6"/><rect x="272.3" y="322.9" width="4.6" height="7.6"/><rect x="272.3" y="325.2" width="4.6" height="7.6"/><rect x="273.5" y="281.5" width="4.6" height="7.6"/><rect x="273.5" y="293.4" width="4.6" height="7.6"/><rect x="273.5" y="279.3" width="4.6" height="7.6"/><rect x="276.3" y="318.7" width="4.6" height="7.6"/><rect x="276.3" y="314.1" width="4.6" height="7.6"/><rect x="276.3" y="322.0" width="4.6" height="7.6"/><rect x="276.3" y="316.3" width="4.6" height="7.6"/><rect x="276.3" y="308.8" width="4.6" height="7.6"/><rect x="276.3" y="316.7" width="4.6" height="7.6"/><rect x="278.6" y="268.4" width="4.6" height="7.6"/><rect x="278.6" y="297.1" width="4.6" height="7.6"/><rect x="278.6" y="295.0" width="4.6" height="7.6"/><rect x="278.6" y="280.5" width="4.6" height="7.6"/><rect x="278.6" y="276.7" width="4.6" height="7.6"/><rect x="278.6" y="301.6" width="4.6" height="7.6"/><rect x="281.6" y="275.6" width="4.6" height="7.6"/><rect x="281.6" y="333.5" width="4.6" height="7.6"/><rect x="281.6" y="330.7" width="4.6" height="7.6"/><rect x="283.9" y="321.0" width="4.6" height="7.6"/><rect x="283.9" y="314.7" width="4.6" height="7.6"/><rect x="283.9" y="316.9" width="4.6" height="7.6"/><rect x="283.9" y="305.7" width="4.6" height="7.6"/><rect x="283.9" y="315.6" width="4.6" height="7.6"/><rect x="286.6" y="299.7" width="4.6" height="7.6"/><rect x="286.6" y="292.5" width="4.6" height="7.6"/><rect x="286.6" y="302.5" width="4.6" height="7.6"/><rect x="290.5" y="300.3" width="4.6" height="7.6"/><rect x="290.5" y="303.9" width="4.6" height="7.6"/><rect x="290.5" y="288.1" width="4.6" height="7.6"/><rect x="290.5" y="297.7" width="4.6" height="7.6"/><rect x="290.5" y="307.7" width="4.6" height="7.6"/><rect x="292.7" y="314.8" width="4.6" height="7.6"/><rect x="292.7" y="317.0" width="4.6" height="7.6"/><rect x="292.7" y="276.2" width="4.6" height="7.6"/><rect x="292.7" y="320.1" width="4.6" height="7.6"/><rect x="292.7" y="291.6" width="4.6" height="7.6"/><rect x="292.7" y="271.3" width="4.6" height="7.6"/><rect x="295.2" y="291.3" width="4.6" height="7.6"/><rect x="295.2" y="297.9" width="4.6" height="7.6"/><rect x="295.2" y="293.7" width="4.6" height="7.6"/><rect x="295.2" y="275.1" width="4.6" height="7.6"/><rect x="296.6" y="319.2" width="4.6" height="7.6"/><rect x="296.6" y="305.1" width="4.6" height="7.6"/><rect x="296.6" y="305.6" width="4.6" height="7.6"/><rect x="296.6" y="305.4" width="4.6" height="7.6"/><rect x="298.6" y="305.6" width="4.6" height="7.6"/><rect x="298.6" y="328.5" width="4.6" height="7.6"/><rect x="298.6" y="307.2" width="4.6" height="7.6"/><rect x="298.6" y="282.9" width="4.6" height="7.6"/><rect x="298.6" y="285.1" width="4.6" height="7.6"/><rect x="298.6" y="323.6" width="4.6" height="7.6"/><rect x="299.9" y="280.4" width="4.6" height="7.6"/><rect x="299.9" y="295.0" width="4.6" height="7.6"/><rect x="299.9" y="287.0" width="4.6" height="7.6"/><rect x="299.9" y="293.4" width="4.6" height="7.6"/><rect x="299.9" y="287.7" width="4.6" height="7.6"/><rect x="299.9" y="287.2" width="4.6" height="7.6"/><rect x="302.1" y="304.0" width="4.6" height="7.6"/><rect x="302.1" y="299.6" width="4.6" height="7.6"/><rect x="302.1" y="324.9" width="4.6" height="7.6"/><rect x="302.1" y="322.1" width="4.6" height="7.6"/><rect x="305.0" y="299.1" width="4.6" height="7.6"/><rect x="305.0" y="275.3" width="4.6" height="7.6"/><rect x="305.0" y="287.7" width="4.6" height="7.6"/><rect x="305.0" y="319.9" width="4.6" height="7.6"/><rect x="305.0" y="280.9" width="4.6" height="7.6"/><rect x="305.0" y="294.7" width="4.6" height="7.6"/><rect x="308.0" y="303.6" width="4.6" height="7.6"/><rect x="308.0" y="314.6" width="4.6" height="7.6"/><rect x="308.0" y="318.4" width="4.6" height="7.6"/><rect x="308.0" y="306.1" width="4.6" height="7.6"/><rect x="308.0" y="307.9" width="4.6" height="7.6"/><rect x="311.7" y="282.3" width="4.6" height="7.6"/><rect x="311.7" y="318.7" width="4.6" height="7.6"/><rect x="311.7" y="299.1" width="4.6" height="7.6"/><rect x="311.7" y="303.4" width="4.6" height="7.6"/><rect x="311.7" y="290.1" width="4.6" height="7.6"/><rect x="312.4" y="272.9" width="4.6" height="7.6"/><rect x="312.4" y="324.1" width="4.6" height="7.6"/><rect x="312.4" y="281.1" width="4.6" height="7.6"/><rect x="312.4" y="310.4" width="4.6" height="7.6"/><rect x="312.4" y="325.5" width="4.6" height="7.6"/><rect x="312.4" y="285.9" width="4.6" height="7.6"/><rect x="314.2" y="305.5" width="4.6" height="7.6"/><rect x="314.2" y="273.2" width="4.6" height="7.6"/><rect x="314.2" y="288.0" width="4.6" height="7.6"/><rect x="314.2" y="272.2" width="4.6" height="7.6"/><rect x="314.2" y="266.1" width="4.6" height="7.6"/><rect x="316.0" y="278.0" width="4.6" height="7.6"/><rect x="316.0" y="271.7" width="4.6" height="7.6"/><rect x="316.0" y="287.2" width="4.6" height="7.6"/><rect x="316.0" y="285.4" width="4.6" height="7.6"/><rect x="316.0" y="279.0" width="4.6" height="7.6"/><rect x="317.5" y="287.7" width="4.6" height="7.6"/><rect x="317.5" y="280.0" width="4.6" height="7.6"/><rect x="317.5" y="287.3" width="4.6" height="7.6"/><rect x="317.5" y="278.0" width="4.6" height="7.6"/><rect x="317.5" y="283.4" width="4.6" height="7.6"/><rect x="317.5" y="311.0" width="4.6" height="7.6"/><rect x="319.9" y="294.7" width="4.6" height="7.6"/><rect x="319.9" y="281.2" width="4.6" height="7.6"/><rect x="319.9" y="287.9" width="4.6" height="7.6"/><rect x="319.9" y="307.0" width="4.6" height="7.6"/><rect x="319.9" y="310.1" width="4.6" height="7.6"/><rect x="319.9" y="308.9" width="4.6" height="7.6"/><rect x="324.5" y="269.5" width="4.6" height="7.6"/><rect x="324.5" y="312.7" width="4.6" height="7.6"/><rect x="324.5" y="270.7" width="4.6" height="7.6"/><rect x="326.2" y="305.5" width="4.6" height="7.6"/><rect x="326.2" y="290.6" width="4.6" height="7.6"/><rect x="326.2" y="281.4" width="4.6" height="7.6"/><rect x="326.2" y="268.7" width="4.6" height="7.6"/><rect x="326.2" y="293.3" width="4.6" height="7.6"/><rect x="326.2" y="297.4" width="4.6" height="7.6"/><rect x="327.1" y="288.4" width="4.6" height="7.6"/><rect x="327.1" y="296.7" width="4.6" height="7.6"/><rect x="327.1" y="287.3" width="4.6" height="7.6"/><rect x="329.1" y="283.2" width="4.6" height="7.6"/><rect x="329.1" y="273.6" width="4.6" height="7.6"/><rect x="329.1" y="259.2" width="4.6" height="7.6"/><rect x="331.4" y="301.1" width="4.6" height="7.6"/><rect x="331.4" y="288.3" width="4.6" height="7.6"/><rect x="331.4" y="299.0" width="4.6" height="7.6"/><rect x="331.4" y="283.2" width="4.6" height="7.6"/><rect x="331.4" y="286.6" width="4.6" height="7.6"/><rect x="331.4" y="278.4" width="4.6" height="7.6"/><rect x="334.4" y="301.0" width="4.6" height="7.6"/><rect x="334.4" y="309.8" width="4.6" height="7.6"/><rect x="334.4" y="289.6" width="4.6" height="7.6"/><rect x="334.4" y="298.9" width="4.6" height="7.6"/><rect x="334.4" y="302.2" width="4.6" height="7.6"/><rect x="336.5" y="266.4" width="4.6" height="7.6"/><rect x="336.5" y="269.8" width="4.6" height="7.6"/><rect x="336.5" y="286.7" width="4.6" height="7.6"/><rect x="338.6" y="289.0" width="4.6" height="7.6"/><rect x="338.6" y="283.1" width="4.6" height="7.6"/><rect x="338.6" y="286.5" width="4.6" height="7.6"/><rect x="338.6" y="288.4" width="4.6" height="7.6"/><rect x="338.6" y="277.3" width="4.6" height="7.6"/><rect x="342.1" y="271.7" width="4.6" height="7.6"/><rect x="342.1" y="276.4" width="4.6" height="7.6"/><rect x="342.1" y="271.9" width="4.6" height="7.6"/><rect x="342.1" y="282.5" width="4.6" height="7.6"/><rect x="342.1" y="299.4" width="4.6" height="7.6"/><rect x="343.6" y="290.5" width="4.6" height="7.6"/><rect x="343.6" y="292.4" width="4.6" height="7.6"/><rect x="343.6" y="283.5" width="4.6" height="7.6"/><rect x="343.6" y="283.2" width="4.6" height="7.6"/><rect x="343.6" y="296.1" width="4.6" height="7.6"/><rect x="343.6" y="298.7" width="4.6" height="7.6"/><rect x="347.3" y="287.0" width="4.6" height="7.6"/><rect x="347.3" y="304.3" width="4.6" height="7.6"/><rect x="347.3" y="297.2" width="4.6" height="7.6"/><rect x="347.3" y="302.5" width="4.6" height="7.6"/><rect x="348.8" y="299.6" width="4.6" height="7.6"/><rect x="348.8" y="304.0" width="4.6" height="7.6"/><rect x="348.8" y="291.6" width="4.6" height="7.6"/><rect x="348.8" y="290.8" width="4.6" height="7.6"/><rect x="351.5" y="293.4" width="4.6" height="7.6"/><rect x="351.5" y="278.1" width="4.6" height="7.6"/><rect x="351.5" y="292.8" width="4.6" height="7.6"/><rect x="351.5" y="272.0" width="4.6" height="7.6"/><rect x="351.5" y="261.6" width="4.6" height="7.6"/><rect x="353.7" y="298.1" width="4.6" height="7.6"/><rect x="353.7" y="299.5" width="4.6" height="7.6"/><rect x="353.7" y="277.1" width="4.6" height="7.6"/><rect x="357.5" y="278.9" width="4.6" height="7.6"/><rect x="357.5" y="282.6" width="4.6" height="7.6"/><rect x="357.5" y="292.6" width="4.6" height="7.6"/><rect x="357.5" y="276.2" width="4.6" height="7.6"/><rect x="358.9" y="273.6" width="4.6" height="7.6"/><rect x="358.9" y="277.7" width="4.6" height="7.6"/><rect x="358.9" y="280.0" width="4.6" height="7.6"/><rect x="358.9" y="279.2" width="4.6" height="7.6"/><rect x="358.9" y="277.4" width="4.6" height="7.6"/><rect x="360.2" y="271.3" width="4.6" height="7.6"/><rect x="360.2" y="272.1" width="4.6" height="7.6"/><rect x="360.2" y="285.0" width="4.6" height="7.6"/><rect x="364.8" y="276.2" width="4.6" height="7.6"/><rect x="364.8" y="281.0" width="4.6" height="7.6"/><rect x="364.8" y="267.1" width="4.6" height="7.6"/><rect x="364.8" y="274.2" width="4.6" height="7.6"/><rect x="364.8" y="274.0" width="4.6" height="7.6"/><rect x="366.2" y="276.9" width="4.6" height="7.6"/><rect x="366.2" y="288.3" width="4.6" height="7.6"/><rect x="366.2" y="293.2" width="4.6" height="7.6"/><rect x="369.2" y="267.5" width="4.6" height="7.6"/><rect x="373.5" y="268.8" width="4.6" height="7.6"/><rect x="373.5" y="266.9" width="4.6" height="7.6"/><rect x="373.5" y="276.1" width="4.6" height="7.6"/><rect x="376.2" y="280.9" width="4.6" height="7.6"/><rect x="376.2" y="282.8" width="4.6" height="7.6"/><rect x="378.3" y="276.6" width="4.6" height="7.6"/><rect x="383.0" y="295.9" width="4.6" height="7.6"/><rect x="383.0" y="308.8" width="4.6" height="7.6"/><rect x="383.0" y="311.1" width="4.6" height="7.6"/><rect x="387.0" y="276.7" width="4.6" height="7.6"/><rect x="387.0" y="285.8" width="4.6" height="7.6"/><rect x="387.0" y="299.8" width="4.6" height="7.6"/><rect x="387.0" y="283.2" width="4.6" height="7.6"/><rect x="389.5" y="271.6" width="4.6" height="7.6"/><rect x="389.5" y="282.1" width="4.6" height="7.6"/><rect x="389.5" y="309.4" width="4.6" height="7.6"/><rect x="392.3" y="281.3" width="4.6" height="7.6"/><rect x="392.3" y="279.4" width="4.6" height="7.6"/><rect x="397.4" y="285.8" width="4.6" height="7.6"/><rect x="400.8" y="276.9" width="4.6" height="7.6"/><rect x="400.8" y="273.9" width="4.6" height="7.6"/><rect x="405.9" y="282.4" width="4.6" height="7.6"/><rect x="410.5" y="281.9" width="4.6" height="7.6"/><rect x="410.5" y="272.8" width="4.6" height="7.6"/><rect x="414.3" y="274.3" width="4.6" height="7.6"/><rect x="417.9" y="292.2" width="4.6" height="7.6"/><rect x="417.9" y="290.4" width="4.6" height="7.6"/><rect x="417.9" y="287.8" width="4.6" height="7.6"/><rect x="421.2" y="279.7" width="4.6" height="7.6"/><rect x="425.9" y="282.1" width="4.6" height="7.6"/><rect x="425.9" y="294.5" width="4.6" height="7.6"/><rect x="425.9" y="281.2" width="4.6" height="7.6"/><rect x="428.2" y="277.0" width="4.6" height="7.6"/><rect x="434.6" y="264.6" width="4.6" height="7.6"/><rect x="441.5" y="263.2" width="4.6" height="7.6"/><rect x="446.6" y="268.9" width="4.6" height="7.6"/><rect x="446.6" y="267.4" width="4.6" height="7.6"/><rect x="449.3" y="273.6" width="4.6" height="7.6"/><rect x="452.1" y="273.3" width="4.6" height="7.6"/><rect x="452.1" y="276.7" width="4.6" height="7.6"/><rect x="452.1" y="276.6" width="4.6" height="7.6"/><rect x="455.0" y="264.9" width="4.6" height="7.6"/><rect x="457.5" y="264.5" width="4.6" height="7.6"/><rect x="457.5" y="270.2" width="4.6" height="7.6"/><rect x="457.5" y="269.6" width="4.6" height="7.6"/><rect x="457.5" y="273.1" width="4.6" height="7.6"/><rect x="461.0" y="270.7" width="4.6" height="7.6"/><rect x="461.0" y="261.4" width="4.6" height="7.6"/><rect x="462.9" y="259.8" width="4.6" height="7.6"/><rect x="462.9" y="272.2" width="4.6" height="7.6"/><rect x="462.9" y="265.4" width="4.6" height="7.6"/><rect x="465.4" y="260.6" width="4.6" height="7.6"/><rect x="465.4" y="255.0" width="4.6" height="7.6"/><rect x="465.4" y="266.9" width="4.6" height="7.6"/><rect x="468.3" y="250.9" width="4.6" height="7.6"/><rect x="468.3" y="278.0" width="4.6" height="7.6"/><rect x="468.3" y="261.5" width="4.6" height="7.6"/><rect x="472.7" y="271.2" width="4.6" height="7.6"/><rect x="472.7" y="266.7" width="4.6" height="7.6"/><rect x="472.7" y="273.6" width="4.6" height="7.6"/><rect x="473.6" y="260.0" width="4.6" height="7.6"/><rect x="473.6" y="266.0" width="4.6" height="7.6"/><rect x="473.6" y="249.5" width="4.6" height="7.6"/><rect x="473.6" y="255.2" width="4.6" height="7.6"/><rect x="473.6" y="249.5" width="4.6" height="7.6"/><rect x="477.7" y="251.7" width="4.6" height="7.6"/><rect x="477.7" y="264.7" width="4.6" height="7.6"/><rect x="477.7" y="251.9" width="4.6" height="7.6"/><rect x="477.7" y="267.5" width="4.6" height="7.6"/><rect x="478.9" y="274.0" width="4.6" height="7.6"/><rect x="478.9" y="269.1" width="4.6" height="7.6"/><rect x="483.3" y="271.6" width="4.6" height="7.6"/><rect x="483.3" y="274.3" width="4.6" height="7.6"/><rect x="483.3" y="268.9" width="4.6" height="7.6"/><rect x="483.8" y="266.7" width="4.6" height="7.6"/><rect x="487.8" y="269.6" width="4.6" height="7.6"/><rect x="487.8" y="263.1" width="4.6" height="7.6"/><rect x="487.8" y="260.1" width="4.6" height="7.6"/><rect x="488.5" y="264.8" width="4.6" height="7.6"/><rect x="488.5" y="284.0" width="4.6" height="7.6"/><rect x="488.5" y="256.9" width="4.6" height="7.6"/><rect x="491.0" y="271.1" width="4.6" height="7.6"/><rect x="491.0" y="271.3" width="4.6" height="7.6"/><rect x="491.0" y="267.2" width="4.6" height="7.6"/><rect x="491.0" y="286.5" width="4.6" height="7.6"/><rect x="491.0" y="262.0" width="4.6" height="7.6"/><rect x="492.9" y="260.3" width="4.6" height="7.6"/><rect x="492.9" y="258.3" width="4.6" height="7.6"/><rect x="496.3" y="263.1" width="4.6" height="7.6"/><rect x="496.3" y="282.4" width="4.6" height="7.6"/><rect x="496.3" y="266.8" width="4.6" height="7.6"/><rect x="496.3" y="270.8" width="4.6" height="7.6"/><rect x="498.1" y="278.7" width="4.6" height="7.6"/><rect x="498.1" y="278.4" width="4.6" height="7.6"/><rect x="498.1" y="276.3" width="4.6" height="7.6"/><rect x="498.1" y="273.1" width="4.6" height="7.6"/><rect x="501.3" y="268.7" width="4.6" height="7.6"/><rect x="501.3" y="270.5" width="4.6" height="7.6"/><rect x="501.3" y="260.0" width="4.6" height="7.6"/><rect x="504.2" y="254.0" width="4.6" height="7.6"/><rect x="504.2" y="258.9" width="4.6" height="7.6"/><rect x="507.3" y="276.2" width="4.6" height="7.6"/><rect x="507.3" y="270.8" width="4.6" height="7.6"/><rect x="507.3" y="280.3" width="4.6" height="7.6"/><rect x="507.3" y="278.0" width="4.6" height="7.6"/><rect x="510.8" y="274.2" width="4.6" height="7.6"/><rect x="510.8" y="270.0" width="4.6" height="7.6"/><rect x="510.8" y="274.0" width="4.6" height="7.6"/><rect x="512.6" y="269.3" width="4.6" height="7.6"/><rect x="512.6" y="267.8" width="4.6" height="7.6"/><rect x="512.6" y="270.9" width="4.6" height="7.6"/><rect x="512.6" y="261.3" width="4.6" height="7.6"/><rect x="515.3" y="273.7" width="4.6" height="7.6"/><rect x="515.3" y="267.6" width="4.6" height="7.6"/><rect x="515.3" y="254.4" width="4.6" height="7.6"/><rect x="518.8" y="276.4" width="4.6" height="7.6"/><rect x="518.8" y="257.0" width="4.6" height="7.6"/><rect x="518.8" y="258.0" width="4.6" height="7.6"/><rect x="518.8" y="284.4" width="4.6" height="7.6"/><rect x="520.0" y="273.6" width="4.6" height="7.6"/><rect x="520.0" y="272.0" width="4.6" height="7.6"/><rect x="520.0" y="272.7" width="4.6" height="7.6"/><rect x="520.0" y="277.5" width="4.6" height="7.6"/><rect x="523.8" y="277.2" width="4.6" height="7.6"/><rect x="523.8" y="255.3" width="4.6" height="7.6"/><rect x="523.8" y="258.1" width="4.6" height="7.6"/><rect x="525.3" y="256.8" width="4.6" height="7.6"/><rect x="525.3" y="252.4" width="4.6" height="7.6"/><rect x="525.3" y="257.1" width="4.6" height="7.6"/><rect x="525.3" y="255.3" width="4.6" height="7.6"/><rect x="525.3" y="250.5" width="4.6" height="7.6"/><rect x="527.9" y="255.9" width="4.6" height="7.6"/><rect x="527.9" y="258.5" width="4.6" height="7.6"/><rect x="527.9" y="256.2" width="4.6" height="7.6"/><rect x="527.9" y="279.5" width="4.6" height="7.6"/><rect x="531.1" y="248.4" width="4.6" height="7.6"/><rect x="531.1" y="261.0" width="4.6" height="7.6"/><rect x="531.1" y="245.5" width="4.6" height="7.6"/><rect x="531.1" y="256.4" width="4.6" height="7.6"/><rect x="532.2" y="277.8" width="4.6" height="7.6"/><rect x="532.2" y="265.0" width="4.6" height="7.6"/><rect x="382.6" y="348.0" width="4.4" height="7.0"/><rect x="382.6" y="328.5" width="4.4" height="7.0"/><rect x="483.5" y="335.0" width="4.4" height="7.0"/><rect x="314.0" y="335.0" width="4.4" height="7.0"/><rect x="519.6" y="300.8" width="4.4" height="7.0"/><rect x="478.5" y="295.0" width="4.4" height="7.0"/><rect x="403.5" y="294.0" width="4.4" height="7.0"/><rect x="427.0" y="300.8" width="4.4" height="7.0"/><rect x="421.5" y="298.0" width="4.4" height="7.0"/><rect x="352.0" y="298.0" width="4.4" height="7.0"/></g><polyline points="172.3,295.4 300.0,275.5 370.0,264.3 389.0,263.0 375.6,261.0 380.0,257.5 391.5,255.8 420.0,253.0 488.0,247.0" fill="none" stroke="#4a4a4a" stroke-width="1.7" stroke-linejoin="round" stroke-linecap="round"/><polyline points="172.3,349.4 251.0,331.8 262.0,330.5 253.0,328.5 300.0,324.0 340.0,318.3 345.0,316.0 385.0,313.8 393.0,311.6 385.0,308.2 397.0,306.0 385.0,301.4 420.0,300.3 470.0,297.0 536.5,286.4" fill="none" stroke="#4a4a4a" stroke-width="1.7" stroke-linejoin="round" stroke-linecap="round"/><polyline points="172.3,320.5 208.3,318.8 221.8,318.8 235.3,309.3 248.8,302.6 264.6,298.0 300.0,294.7 370.0,289.0 388.0,281.2 395.0,276.7 420.0,275.5 510.0,274.4 530.0,264.3 536.5,261.6" fill="none" stroke="#454545" stroke-width="2.6" stroke-linejoin="round" stroke-linecap="round"/><polyline points="172.3,320.5 240.0,311.0 290.0,305.0 330.0,298.0 380.0,288.0 420.0,284.5 480.0,281.0 536.5,277.3" fill="none" stroke="#0808c8" stroke-width="3.6" stroke-linejoin="round" stroke-linecap="round"/>
<line x1="172.3" y1="237.2" x2="172.3" y2="232.7" stroke="#000" stroke-width="1.5"/>
<line x1="172.3" y1="383.5" x2="172.3" y2="388.0" stroke="#000" stroke-width="1.5"/>
<line x1="233.0" y1="237.2" x2="233.0" y2="232.7" stroke="#000" stroke-width="1.5"/>
<line x1="233.0" y1="383.5" x2="233.0" y2="388.0" stroke="#000" stroke-width="1.5"/>
<line x1="293.7" y1="237.2" x2="293.7" y2="232.7" stroke="#000" stroke-width="1.5"/>
<line x1="293.7" y1="383.5" x2="293.7" y2="388.0" stroke="#000" stroke-width="1.5"/>
<line x1="354.4" y1="237.2" x2="354.4" y2="232.7" stroke="#000" stroke-width="1.5"/>
<line x1="354.4" y1="383.5" x2="354.4" y2="388.0" stroke="#000" stroke-width="1.5"/>
<line x1="415.1" y1="237.2" x2="415.1" y2="232.7" stroke="#000" stroke-width="1.5"/>
<line x1="415.1" y1="383.5" x2="415.1" y2="388.0" stroke="#000" stroke-width="1.5"/>
<line x1="475.8" y1="237.2" x2="475.8" y2="232.7" stroke="#000" stroke-width="1.5"/>
<line x1="475.8" y1="383.5" x2="475.8" y2="388.0" stroke="#000" stroke-width="1.5"/>
<line x1="536.5" y1="237.2" x2="536.5" y2="232.7" stroke="#000" stroke-width="1.5"/>
<line x1="536.5" y1="383.5" x2="536.5" y2="388.0" stroke="#000" stroke-width="1.5"/>
<line x1="172.3" y1="237.2" x2="167.8" y2="237.2" stroke="#000" stroke-width="1.5"/>
<line x1="536.5" y1="237.2" x2="541.0" y2="237.2" stroke="#000" stroke-width="1.5"/>
<line x1="172.3" y1="266.46" x2="167.8" y2="266.46" stroke="#000" stroke-width="1.5"/>
<line x1="536.5" y1="266.46" x2="541.0" y2="266.46" stroke="#000" stroke-width="1.5"/>
<line x1="172.3" y1="295.71999999999997" x2="167.8" y2="295.71999999999997" stroke="#000" stroke-width="1.5"/>
<line x1="536.5" y1="295.71999999999997" x2="541.0" y2="295.71999999999997" stroke="#000" stroke-width="1.5"/>
<line x1="172.3" y1="324.98" x2="167.8" y2="324.98" stroke="#000" stroke-width="1.5"/>
<line x1="536.5" y1="324.98" x2="541.0" y2="324.98" stroke="#000" stroke-width="1.5"/>
<line x1="172.3" y1="354.24" x2="167.8" y2="354.24" stroke="#000" stroke-width="1.5"/>
<line x1="536.5" y1="354.24" x2="541.0" y2="354.24" stroke="#000" stroke-width="1.5"/>
<line x1="172.3" y1="383.5" x2="167.8" y2="383.5" stroke="#000" stroke-width="1.5"/>
<line x1="536.5" y1="383.5" x2="541.0" y2="383.5" stroke="#000" stroke-width="1.5"/>
<text x="174.3" y="412" font-size="19.5" text-anchor="middle" font-weight="normal" >160°W</text>
<text x="295.7" y="412" font-size="19.5" text-anchor="middle" font-weight="normal" >140°W</text>
<text x="417.1" y="412" font-size="19.5" text-anchor="middle" font-weight="normal" >120°W</text>
<text x="538.5" y="412" font-size="19.5" text-anchor="middle" font-weight="normal" >100°W</text>
<text x="161.3" y="244.3" font-size="19.5" text-anchor="end" font-weight="normal" >0</text>
<text x="161.3" y="302.5" font-size="19.5" text-anchor="end" font-weight="normal" >−100</text>
<text x="161.3" y="361" font-size="19.5" text-anchor="end" font-weight="normal" >−200</text>
<text x="0" y="0" font-size="19.5" text-anchor="middle" transform="translate(103.6,310.7) rotate(-90)">Depth (m)</text>
<text x="85" y="241.7" font-size="28" text-anchor="start" font-weight="bold" >b</text>
<rect x="86.3" y="461.5" width="332.0" height="149.70000000000005" fill="none" stroke="#000" stroke-width="1.5"/>
<g fill="#f6a482"><rect x="197.9" y="496.0" width="3.0" height="47.9"/><rect x="199.9" y="499.2" width="3.0" height="47.2"/><rect x="200.6" y="493.9" width="3.0" height="54.6"/><rect x="203.7" y="487.0" width="3.0" height="65.4"/><rect x="203.6" y="492.8" width="3.0" height="55.8"/><rect x="206.7" y="479.7" width="3.0" height="65.8"/><rect x="208.2" y="513.9" width="3.0" height="31.2"/><rect x="208.4" y="482.5" width="3.0" height="74.4"/><rect x="211.2" y="474.3" width="3.0" height="71.2"/><rect x="211.6" y="471.8" width="3.0" height="66.8"/><rect x="214.2" y="505.5" width="3.0" height="52.7"/><rect x="214.8" y="467.4" width="3.0" height="92.7"/><rect x="217.3" y="493.2" width="3.0" height="53.8"/><rect x="219.1" y="473.7" width="3.0" height="80.0"/><rect x="220.3" y="475.3" width="3.0" height="83.5"/><rect x="221.7" y="477.1" width="3.0" height="89.6"/><rect x="223.0" y="476.2" width="3.0" height="69.3"/><rect x="225.7" y="478.9" width="3.0" height="77.9"/><rect x="227.7" y="481.5" width="3.0" height="60.1"/><rect x="229.0" y="470.4" width="3.0" height="82.3"/><rect x="229.9" y="470.1" width="3.0" height="85.0"/><rect x="232.1" y="488.7" width="3.0" height="75.2"/><rect x="234.4" y="472.1" width="3.0" height="80.0"/><rect x="235.3" y="470.3" width="3.0" height="81.3"/><rect x="236.8" y="477.3" width="3.0" height="104.0"/><rect x="239.1" y="478.5" width="3.0" height="86.9"/><rect x="241.1" y="477.5" width="3.0" height="76.6"/><rect x="241.2" y="471.5" width="3.0" height="112.8"/><rect x="244.2" y="469.9" width="3.0" height="82.9"/><rect x="246.4" y="471.9" width="3.0" height="113.5"/><rect x="247.3" y="480.9" width="3.0" height="88.4"/><rect x="248.3" y="495.5" width="3.0" height="68.5"/><rect x="250.6" y="472.5" width="3.0" height="68.9"/><rect x="251.5" y="474.0" width="3.0" height="84.6"/><rect x="255.0" y="480.8" width="3.0" height="77.5"/><rect x="256.9" y="480.6" width="3.0" height="65.3"/><rect x="258.4" y="479.3" width="3.0" height="74.3"/><rect x="260.4" y="495.5" width="3.0" height="51.5"/><rect x="262.6" y="483.4" width="3.0" height="75.6"/><rect x="264.5" y="479.1" width="3.0" height="89.3"/><rect x="265.8" y="474.9" width="3.0" height="100.2"/><rect x="268.5" y="479.2" width="3.0" height="82.3"/><rect x="270.5" y="473.0" width="3.0" height="99.0"/><rect x="272.2" y="497.4" width="3.0" height="86.3"/><rect x="274.6" y="480.6" width="3.0" height="103.7"/><rect x="275.6" y="473.2" width="3.0" height="109.7"/><rect x="277.8" y="484.1" width="3.0" height="81.2"/><rect x="279.6" y="487.1" width="3.0" height="88.9"/><rect x="280.7" y="469.7" width="3.0" height="112.0"/><rect x="283.1" y="487.3" width="3.0" height="85.6"/><rect x="284.6" y="483.1" width="3.0" height="93.9"/><rect x="286.0" y="494.5" width="3.0" height="79.5"/><rect x="287.2" y="474.8" width="3.0" height="91.2"/><rect x="288.2" y="513.5" width="3.0" height="72.2"/><rect x="290.7" y="466.4" width="3.0" height="97.0"/><rect x="292.9" y="499.7" width="3.0" height="79.9"/><rect x="293.4" y="468.3" width="3.0" height="112.9"/><rect x="296.4" y="488.0" width="3.0" height="97.2"/><rect x="297.4" y="478.0" width="3.0" height="91.0"/><rect x="298.5" y="519.0" width="3.0" height="71.3"/><rect x="301.5" y="491.2" width="3.0" height="79.4"/><rect x="301.3" y="489.6" width="3.0" height="89.9"/><rect x="304.4" y="487.3" width="3.0" height="84.4"/><rect x="304.4" y="489.0" width="3.0" height="86.6"/><rect x="90.3" y="478.0" width="3.0" height="46.0"/><rect x="86.0" y="500.0" width="3.0" height="52.0"/><rect x="88.0" y="505.0" width="3.0" height="51.0"/><rect x="90.0" y="498.0" width="3.0" height="52.0"/><rect x="92.0" y="500.0" width="3.0" height="45.0"/><rect x="94.5" y="505.0" width="3.0" height="43.0"/><rect x="94.0" y="505.0" width="3.0" height="51.0"/><rect x="96.0" y="510.0" width="3.0" height="38.0"/><rect x="98.0" y="508.0" width="3.0" height="37.0"/><rect x="100.5" y="505.0" width="3.0" height="60.0"/><rect x="102.5" y="506.0" width="3.0" height="54.0"/><rect x="104.5" y="508.0" width="3.0" height="47.0"/><rect x="106.5" y="512.0" width="3.0" height="40.0"/><rect x="108.5" y="515.0" width="3.0" height="33.0"/><rect x="111.0" y="522.0" width="3.0" height="43.0"/><rect x="113.5" y="524.0" width="3.0" height="42.0"/><rect x="118.6" y="532.0" width="3.0" height="55.0"/><rect x="127.3" y="524.0" width="3.0" height="37.0"/><rect x="190.8" y="490.0" width="3.0" height="77.0"/><rect x="248.5" y="540.0" width="3.0" height="70.5"/><rect x="239.5" y="545.0" width="3.0" height="50.0"/><rect x="280.5" y="540.0" width="3.0" height="52.0"/><rect x="295.5" y="545.0" width="3.0" height="52.0"/><rect x="231.5" y="550.0" width="3.0" height="38.0"/><rect x="200.5" y="466.0" width="3.0" height="21.0"/><rect x="307.5" y="499.0" width="3.0" height="93.0"/><rect x="310.0" y="505.0" width="3.0" height="80.0"/><rect x="312.5" y="500.0" width="3.0" height="90.0"/><rect x="315.0" y="510.0" width="3.0" height="70.0"/><rect x="319.7" y="474.0" width="3.0" height="64.0"/><rect x="323.0" y="512.0" width="3.0" height="64.0"/><rect x="325.5" y="515.0" width="3.0" height="55.0"/><rect x="330.5" y="498.0" width="3.0" height="76.0"/><rect x="337.3" y="518.0" width="3.0" height="33.0"/><rect x="341.8" y="553.0" width="3.0" height="38.0"/><rect x="345.3" y="501.0" width="3.0" height="55.0"/><rect x="349.0" y="500.0" width="3.0" height="58.0"/><rect x="351.5" y="505.0" width="3.0" height="45.0"/><rect x="354.5" y="510.0" width="3.0" height="35.0"/><rect x="361.2" y="519.0" width="3.0" height="32.0"/><rect x="369.2" y="470.0" width="3.0" height="72.0"/><rect x="372.0" y="483.0" width="3.0" height="75.0"/><rect x="375.0" y="490.0" width="3.0" height="60.0"/><rect x="378.0" y="488.0" width="3.0" height="52.0"/><rect x="381.5" y="476.0" width="3.0" height="59.0"/><rect x="384.5" y="480.0" width="3.0" height="50.0"/><rect x="387.5" y="478.0" width="3.0" height="50.0"/><rect x="394.3" y="474.0" width="3.0" height="20.0"/><rect x="399.0" y="476.0" width="3.0" height="43.0"/><rect x="402.5" y="480.0" width="3.0" height="35.0"/><rect x="408.0" y="474.0" width="3.0" height="52.0"/><rect x="411.0" y="476.0" width="3.0" height="44.0"/><rect x="414.0" y="474.0" width="3.0" height="48.0"/></g><g fill="#2e8b57"><rect x="197.1" y="531.0" width="4.6" height="7.6"/><rect x="197.1" y="520.3" width="4.6" height="15.2"/><rect x="197.1" y="507.0" width="4.6" height="7.6"/><rect x="197.1" y="507.5" width="4.6" height="15.2"/><rect x="199.1" y="531.6" width="4.6" height="7.6"/><rect x="199.1" y="500.5" width="4.6" height="7.6"/><rect x="199.1" y="533.6" width="4.6" height="7.6"/><rect x="199.1" y="529.5" width="4.6" height="7.6"/><rect x="199.8" y="531.0" width="4.6" height="15.2"/><rect x="199.8" y="526.3" width="4.6" height="7.6"/><rect x="199.8" y="522.7" width="4.6" height="15.2"/><rect x="199.8" y="497.3" width="4.6" height="15.2"/><rect x="199.8" y="513.3" width="4.6" height="7.6"/><rect x="202.9" y="531.6" width="4.6" height="15.2"/><rect x="202.9" y="506.2" width="4.6" height="15.2"/><rect x="202.9" y="528.4" width="4.6" height="7.6"/><rect x="202.9" y="502.5" width="4.6" height="15.2"/><rect x="202.9" y="502.3" width="4.6" height="15.2"/><rect x="202.9" y="521.5" width="4.6" height="15.2"/><rect x="202.8" y="539.2" width="4.6" height="7.6"/><rect x="202.8" y="509.6" width="4.6" height="7.6"/><rect x="202.8" y="492.9" width="4.6" height="15.2"/><rect x="202.8" y="531.9" width="4.6" height="15.2"/><rect x="202.8" y="501.8" width="4.6" height="7.6"/><rect x="202.8" y="532.3" width="4.6" height="15.2"/><rect x="205.9" y="481.6" width="4.6" height="15.2"/><rect x="205.9" y="524.6" width="4.6" height="15.2"/><rect x="205.9" y="484.9" width="4.6" height="15.2"/><rect x="205.9" y="493.6" width="4.6" height="7.6"/><rect x="205.9" y="482.0" width="4.6" height="7.6"/><rect x="205.9" y="500.6" width="4.6" height="15.2"/><rect x="207.4" y="524.2" width="4.6" height="7.6"/><rect x="207.4" y="525.1" width="4.6" height="7.6"/><rect x="207.4" y="521.8" width="4.6" height="7.6"/><rect x="207.4" y="527.5" width="4.6" height="15.2"/><rect x="207.6" y="524.2" width="4.6" height="15.2"/><rect x="207.6" y="494.3" width="4.6" height="15.2"/><rect x="207.6" y="537.2" width="4.6" height="7.6"/><rect x="207.6" y="485.9" width="4.6" height="7.6"/><rect x="207.6" y="509.3" width="4.6" height="15.2"/><rect x="210.4" y="478.0" width="4.6" height="7.6"/><rect x="210.4" y="493.2" width="4.6" height="7.6"/><rect x="210.4" y="480.2" width="4.6" height="7.6"/><rect x="210.4" y="535.0" width="4.6" height="7.6"/><rect x="210.4" y="514.0" width="4.6" height="15.2"/><rect x="210.4" y="514.4" width="4.6" height="7.6"/><rect x="210.8" y="493.3" width="4.6" height="15.2"/><rect x="210.8" y="479.0" width="4.6" height="7.6"/><rect x="210.8" y="518.9" width="4.6" height="15.2"/><rect x="213.4" y="532.1" width="4.6" height="15.2"/><rect x="213.4" y="533.6" width="4.6" height="7.6"/><rect x="213.4" y="516.9" width="4.6" height="7.6"/><rect x="214.0" y="531.6" width="4.6" height="15.2"/><rect x="214.0" y="500.7" width="4.6" height="15.2"/><rect x="214.0" y="509.5" width="4.6" height="7.6"/><rect x="214.0" y="494.9" width="4.6" height="7.6"/><rect x="214.0" y="506.9" width="4.6" height="7.6"/><rect x="216.5" y="520.9" width="4.6" height="7.6"/><rect x="216.5" y="509.5" width="4.6" height="7.6"/><rect x="216.5" y="514.6" width="4.6" height="15.2"/><rect x="216.5" y="504.3" width="4.6" height="15.2"/><rect x="216.5" y="495.9" width="4.6" height="7.6"/><rect x="218.3" y="482.1" width="4.6" height="7.6"/><rect x="218.3" y="494.8" width="4.6" height="15.2"/><rect x="218.3" y="523.4" width="4.6" height="7.6"/><rect x="218.3" y="525.1" width="4.6" height="15.2"/><rect x="218.3" y="504.7" width="4.6" height="7.6"/><rect x="219.5" y="476.9" width="4.6" height="15.2"/><rect x="219.5" y="492.2" width="4.6" height="7.6"/><rect x="219.5" y="521.1" width="4.6" height="7.6"/><rect x="219.5" y="509.0" width="4.6" height="15.2"/><rect x="219.5" y="514.1" width="4.6" height="15.2"/><rect x="219.5" y="518.4" width="4.6" height="7.6"/><rect x="220.9" y="479.2" width="4.6" height="15.2"/><rect x="220.9" y="535.0" width="4.6" height="15.2"/><rect x="220.9" y="486.6" width="4.6" height="7.6"/><rect x="222.2" y="501.3" width="4.6" height="7.6"/><rect x="222.2" y="478.5" width="4.6" height="7.6"/><rect x="222.2" y="480.7" width="4.6" height="15.2"/><rect x="222.2" y="485.1" width="4.6" height="15.2"/><rect x="222.2" y="500.0" width="4.6" height="7.6"/><rect x="224.9" y="490.6" width="4.6" height="7.6"/><rect x="224.9" y="539.6" width="4.6" height="15.2"/><rect x="224.9" y="509.0" width="4.6" height="15.2"/><rect x="226.9" y="506.4" width="4.6" height="15.2"/><rect x="226.9" y="489.1" width="4.6" height="7.6"/><rect x="226.9" y="505.5" width="4.6" height="7.6"/><rect x="226.9" y="485.5" width="4.6" height="7.6"/><rect x="226.9" y="520.4" width="4.6" height="15.2"/><rect x="226.9" y="508.8" width="4.6" height="7.6"/><rect x="228.2" y="506.8" width="4.6" height="7.6"/><rect x="228.2" y="531.5" width="4.6" height="15.2"/><rect x="228.2" y="513.4" width="4.6" height="7.6"/><rect x="229.1" y="513.4" width="4.6" height="15.2"/><rect x="229.1" y="504.9" width="4.6" height="7.6"/><rect x="229.1" y="512.2" width="4.6" height="7.6"/><rect x="229.1" y="474.0" width="4.6" height="15.2"/><rect x="231.3" y="502.2" width="4.6" height="15.2"/><rect x="231.3" y="491.7" width="4.6" height="15.2"/><rect x="231.3" y="508.0" width="4.6" height="15.2"/><rect x="233.6" y="481.5" width="4.6" height="15.2"/><rect x="233.6" y="474.9" width="4.6" height="7.6"/><rect x="233.6" y="490.4" width="4.6" height="7.6"/><rect x="234.5" y="528.9" width="4.6" height="7.6"/><rect x="234.5" y="473.7" width="4.6" height="15.2"/><rect x="234.5" y="532.7" width="4.6" height="15.2"/><rect x="234.5" y="515.7" width="4.6" height="7.6"/><rect x="234.5" y="515.0" width="4.6" height="7.6"/><rect x="236.0" y="537.7" width="4.6" height="15.2"/><rect x="236.0" y="489.7" width="4.6" height="7.6"/><rect x="236.0" y="544.2" width="4.6" height="7.6"/><rect x="236.0" y="544.3" width="4.6" height="7.6"/><rect x="236.0" y="531.1" width="4.6" height="7.6"/><rect x="238.3" y="488.4" width="4.6" height="7.6"/><rect x="238.3" y="539.6" width="4.6" height="15.2"/><rect x="238.3" y="480.6" width="4.6" height="15.2"/><rect x="240.3" y="482.9" width="4.6" height="15.2"/><rect x="240.3" y="481.4" width="4.6" height="7.6"/><rect x="240.3" y="540.9" width="4.6" height="7.6"/><rect x="240.4" y="506.8" width="4.6" height="15.2"/><rect x="240.4" y="504.0" width="4.6" height="15.2"/><rect x="240.4" y="473.0" width="4.6" height="15.2"/><rect x="240.4" y="541.3" width="4.6" height="7.6"/><rect x="240.4" y="505.5" width="4.6" height="7.6"/><rect x="243.4" y="514.6" width="4.6" height="15.2"/><rect x="243.4" y="513.6" width="4.6" height="7.6"/><rect x="243.4" y="532.1" width="4.6" height="15.2"/><rect x="245.6" y="529.0" width="4.6" height="15.2"/><rect x="245.6" y="487.7" width="4.6" height="15.2"/><rect x="245.6" y="478.2" width="4.6" height="7.6"/><rect x="245.6" y="494.7" width="4.6" height="15.2"/><rect x="245.6" y="473.3" width="4.6" height="7.6"/><rect x="246.5" y="515.9" width="4.6" height="7.6"/><rect x="246.5" y="510.5" width="4.6" height="15.2"/><rect x="246.5" y="519.9" width="4.6" height="15.2"/><rect x="246.5" y="534.5" width="4.6" height="7.6"/><rect x="246.5" y="481.9" width="4.6" height="7.6"/><rect x="246.5" y="532.6" width="4.6" height="7.6"/><rect x="247.5" y="543.7" width="4.6" height="15.2"/><rect x="247.5" y="524.4" width="4.6" height="7.6"/><rect x="247.5" y="517.2" width="4.6" height="7.6"/><rect x="247.5" y="504.0" width="4.6" height="7.6"/><rect x="247.5" y="504.0" width="4.6" height="7.6"/><rect x="249.8" y="499.6" width="4.6" height="15.2"/><rect x="249.8" y="508.2" width="4.6" height="15.2"/><rect x="249.8" y="513.8" width="4.6" height="15.2"/><rect x="249.8" y="521.3" width="4.6" height="15.2"/><rect x="249.8" y="475.0" width="4.6" height="15.2"/><rect x="249.8" y="520.1" width="4.6" height="7.6"/><rect x="250.7" y="537.0" width="4.6" height="7.6"/><rect x="250.7" y="507.6" width="4.6" height="7.6"/><rect x="250.7" y="491.4" width="4.6" height="15.2"/><rect x="250.7" y="476.9" width="4.6" height="7.6"/><rect x="250.7" y="548.2" width="4.6" height="7.6"/><rect x="254.2" y="489.8" width="4.6" height="7.6"/><rect x="254.2" y="501.9" width="4.6" height="7.6"/><rect x="254.2" y="483.6" width="4.6" height="7.6"/><rect x="254.2" y="483.7" width="4.6" height="15.2"/><rect x="254.2" y="506.2" width="4.6" height="15.2"/><rect x="254.2" y="519.3" width="4.6" height="15.2"/><rect x="256.1" y="513.8" width="4.6" height="7.6"/><rect x="256.1" y="529.5" width="4.6" height="15.2"/><rect x="256.1" y="494.1" width="4.6" height="15.2"/><rect x="256.1" y="523.8" width="4.6" height="7.6"/><rect x="256.1" y="489.7" width="4.6" height="7.6"/><rect x="256.1" y="513.7" width="4.6" height="7.6"/><rect x="257.6" y="495.3" width="4.6" height="7.6"/><rect x="257.6" y="484.0" width="4.6" height="15.2"/><rect x="257.6" y="544.6" width="4.6" height="7.6"/><rect x="259.6" y="536.6" width="4.6" height="7.6"/><rect x="259.6" y="530.9" width="4.6" height="15.2"/><rect x="259.6" y="513.5" width="4.6" height="7.6"/><rect x="259.6" y="507.1" width="4.6" height="15.2"/><rect x="261.8" y="522.9" width="4.6" height="15.2"/><rect x="261.8" y="515.3" width="4.6" height="7.6"/><rect x="261.8" y="489.5" width="4.6" height="15.2"/><rect x="261.8" y="513.3" width="4.6" height="7.6"/><rect x="263.7" y="512.8" width="4.6" height="15.2"/><rect x="263.7" y="498.6" width="4.6" height="15.2"/><rect x="263.7" y="495.9" width="4.6" height="7.6"/><rect x="265.0" y="514.9" width="4.6" height="15.2"/><rect x="265.0" y="509.6" width="4.6" height="15.2"/><rect x="265.0" y="508.3" width="4.6" height="7.6"/><rect x="265.0" y="482.7" width="4.6" height="7.6"/><rect x="265.0" y="477.6" width="4.6" height="15.2"/><rect x="267.7" y="481.4" width="4.6" height="7.6"/><rect x="267.7" y="542.9" width="4.6" height="15.2"/><rect x="267.7" y="537.5" width="4.6" height="15.2"/><rect x="267.7" y="518.1" width="4.6" height="7.6"/><rect x="269.7" y="479.9" width="4.6" height="15.2"/><rect x="269.7" y="552.5" width="4.6" height="7.6"/><rect x="269.7" y="475.6" width="4.6" height="7.6"/><rect x="271.4" y="505.4" width="4.6" height="15.2"/><rect x="271.4" y="539.3" width="4.6" height="15.2"/><rect x="271.4" y="528.2" width="4.6" height="15.2"/><rect x="271.4" y="513.1" width="4.6" height="15.2"/><rect x="271.4" y="536.5" width="4.6" height="7.6"/><rect x="273.8" y="520.7" width="4.6" height="7.6"/><rect x="273.8" y="546.3" width="4.6" height="7.6"/><rect x="273.8" y="550.4" width="4.6" height="15.2"/><rect x="273.8" y="495.2" width="4.6" height="7.6"/><rect x="273.8" y="563.6" width="4.6" height="7.6"/><rect x="273.8" y="530.3" width="4.6" height="15.2"/><rect x="274.8" y="544.4" width="4.6" height="7.6"/><rect x="274.8" y="557.1" width="4.6" height="7.6"/><rect x="274.8" y="473.9" width="4.6" height="15.2"/><rect x="274.8" y="549.9" width="4.6" height="15.2"/><rect x="274.8" y="501.5" width="4.6" height="7.6"/><rect x="277.0" y="487.2" width="4.6" height="15.2"/><rect x="277.0" y="526.8" width="4.6" height="15.2"/><rect x="277.0" y="546.5" width="4.6" height="15.2"/><rect x="277.0" y="549.5" width="4.6" height="15.2"/><rect x="277.0" y="529.7" width="4.6" height="15.2"/><rect x="278.8" y="535.0" width="4.6" height="7.6"/><rect x="278.8" y="557.4" width="4.6" height="7.6"/><rect x="278.8" y="551.7" width="4.6" height="15.2"/><rect x="278.8" y="542.2" width="4.6" height="15.2"/><rect x="278.8" y="525.4" width="4.6" height="15.2"/><rect x="279.9" y="486.8" width="4.6" height="7.6"/><rect x="279.9" y="472.5" width="4.6" height="7.6"/><rect x="279.9" y="550.9" width="4.6" height="7.6"/><rect x="279.9" y="506.0" width="4.6" height="7.6"/><rect x="279.9" y="557.4" width="4.6" height="7.6"/><rect x="282.3" y="547.6" width="4.6" height="7.6"/><rect x="282.3" y="491.1" width="4.6" height="15.2"/><rect x="282.3" y="519.1" width="4.6" height="15.2"/><rect x="282.3" y="563.4" width="4.6" height="7.6"/><rect x="283.8" y="483.2" width="4.6" height="7.6"/><rect x="283.8" y="532.7" width="4.6" height="15.2"/><rect x="283.8" y="535.7" width="4.6" height="7.6"/><rect x="285.2" y="501.1" width="4.6" height="7.6"/><rect x="285.2" y="556.1" width="4.6" height="15.2"/><rect x="285.2" y="557.6" width="4.6" height="15.2"/><rect x="285.2" y="522.4" width="4.6" height="15.2"/><rect x="286.4" y="546.6" width="4.6" height="15.2"/><rect x="286.4" y="483.2" width="4.6" height="7.6"/><rect x="286.4" y="486.1" width="4.6" height="7.6"/><rect x="286.4" y="490.7" width="4.6" height="7.6"/><rect x="286.4" y="476.7" width="4.6" height="15.2"/><rect x="287.4" y="555.7" width="4.6" height="15.2"/><rect x="287.4" y="535.9" width="4.6" height="7.6"/><rect x="287.4" y="552.6" width="4.6" height="7.6"/><rect x="287.4" y="516.4" width="4.6" height="15.2"/><rect x="287.4" y="528.8" width="4.6" height="15.2"/><rect x="289.9" y="490.8" width="4.6" height="15.2"/><rect x="289.9" y="531.8" width="4.6" height="15.2"/><rect x="289.9" y="527.8" width="4.6" height="7.6"/><rect x="289.9" y="523.1" width="4.6" height="7.6"/><rect x="289.9" y="547.3" width="4.6" height="15.2"/><rect x="292.1" y="569.1" width="4.6" height="7.6"/><rect x="292.1" y="529.1" width="4.6" height="7.6"/><rect x="292.1" y="534.8" width="4.6" height="7.6"/><rect x="292.1" y="549.1" width="4.6" height="7.6"/><rect x="292.6" y="560.5" width="4.6" height="15.2"/><rect x="292.6" y="497.9" width="4.6" height="7.6"/><rect x="292.6" y="528.5" width="4.6" height="7.6"/><rect x="295.6" y="497.2" width="4.6" height="15.2"/><rect x="295.6" y="548.2" width="4.6" height="15.2"/><rect x="295.6" y="532.6" width="4.6" height="7.6"/><rect x="295.6" y="519.1" width="4.6" height="7.6"/><rect x="295.6" y="491.9" width="4.6" height="15.2"/><rect x="296.6" y="495.5" width="4.6" height="7.6"/><rect x="296.6" y="479.6" width="4.6" height="15.2"/><rect x="296.6" y="486.9" width="4.6" height="15.2"/><rect x="297.7" y="559.3" width="4.6" height="15.2"/><rect x="297.7" y="521.0" width="4.6" height="7.6"/><rect x="297.7" y="554.0" width="4.6" height="15.2"/><rect x="297.7" y="541.5" width="4.6" height="15.2"/><rect x="300.7" y="515.0" width="4.6" height="15.2"/><rect x="300.7" y="509.1" width="4.6" height="7.6"/><rect x="300.7" y="506.9" width="4.6" height="7.6"/><rect x="300.7" y="540.9" width="4.6" height="15.2"/><rect x="300.7" y="542.6" width="4.6" height="15.2"/><rect x="300.5" y="537.7" width="4.6" height="15.2"/><rect x="300.5" y="529.4" width="4.6" height="7.6"/><rect x="300.5" y="558.2" width="4.6" height="15.2"/><rect x="303.6" y="542.1" width="4.6" height="7.6"/><rect x="303.6" y="530.6" width="4.6" height="15.2"/><rect x="303.6" y="494.4" width="4.6" height="7.6"/><rect x="303.6" y="496.6" width="4.6" height="7.6"/><rect x="303.6" y="496.9" width="4.6" height="15.2"/><rect x="303.6" y="489.8" width="4.6" height="7.6"/><rect x="303.6" y="525.2" width="4.6" height="7.6"/><rect x="303.6" y="510.1" width="4.6" height="15.2"/><rect x="303.6" y="497.1" width="4.6" height="15.2"/><rect x="303.6" y="555.2" width="4.6" height="15.2"/><rect x="85.4" y="504.0" width="4.3" height="7.8"/><rect x="85.4" y="511.0" width="4.3" height="7.8"/><rect x="85.4" y="518.0" width="4.3" height="7.8"/><rect x="87.4" y="508.0" width="4.3" height="7.8"/><rect x="87.4" y="515.0" width="4.3" height="7.8"/><rect x="87.4" y="522.0" width="4.3" height="7.8"/><rect x="89.4" y="503.0" width="4.3" height="7.8"/><rect x="89.4" y="510.0" width="4.3" height="7.8"/><rect x="89.4" y="517.0" width="4.3" height="7.8"/><rect x="91.4" y="506.0" width="4.3" height="7.8"/><rect x="91.4" y="513.0" width="4.3" height="7.8"/><rect x="91.4" y="520.0" width="4.3" height="7.8"/><rect x="93.9" y="512.0" width="4.3" height="7.8"/><rect x="93.9" y="519.0" width="4.3" height="7.8"/><rect x="93.4" y="493.0" width="4.3" height="7.8"/><rect x="93.4" y="543.0" width="4.3" height="7.8"/><rect x="95.4" y="518.0" width="4.3" height="7.8"/><rect x="95.4" y="555.0" width="4.3" height="7.8"/><rect x="99.9" y="506.0" width="4.3" height="7.8"/><rect x="99.9" y="520.0" width="4.3" height="7.8"/><rect x="101.9" y="511.0" width="4.3" height="7.8"/><rect x="101.9" y="560.0" width="4.3" height="7.8"/><rect x="103.9" y="526.0" width="4.3" height="7.8"/><rect x="105.9" y="509.0" width="4.3" height="7.8"/><rect x="105.9" y="534.0" width="4.3" height="7.8"/><rect x="110.4" y="523.0" width="4.3" height="7.8"/><rect x="112.9" y="528.0" width="4.3" height="7.8"/><rect x="118.0" y="557.5" width="4.3" height="7.8"/><rect x="126.7" y="523.5" width="4.3" height="7.8"/><rect x="89.9" y="569.0" width="4.3" height="7.8"/><rect x="93.9" y="579.5" width="4.3" height="7.8"/><rect x="190.2" y="495.0" width="4.3" height="7.8"/><rect x="190.2" y="517.0" width="4.3" height="7.8"/><rect x="190.2" y="549.0" width="4.3" height="7.8"/><rect x="247.9" y="580.0" width="4.3" height="7.8"/><rect x="199.9" y="471.0" width="4.3" height="7.8"/><rect x="306.9" y="502.0" width="4.3" height="7.8"/><rect x="306.9" y="540.0" width="4.3" height="7.8"/><rect x="306.9" y="565.0" width="4.3" height="7.8"/><rect x="309.4" y="522.0" width="4.3" height="7.8"/><rect x="309.4" y="530.0" width="4.3" height="7.8"/><rect x="309.4" y="548.0" width="4.3" height="7.8"/><rect x="309.4" y="570.0" width="4.3" height="7.8"/><rect x="311.9" y="535.0" width="4.3" height="7.8"/><rect x="311.9" y="545.0" width="4.3" height="7.8"/><rect x="311.9" y="575.0" width="4.3" height="7.8"/><rect x="314.4" y="528.0" width="4.3" height="7.8"/><rect x="314.4" y="552.0" width="4.3" height="7.8"/><rect x="319.1" y="478.0" width="4.3" height="7.8"/><rect x="319.1" y="488.5" width="4.3" height="7.8"/><rect x="319.1" y="503.0" width="4.3" height="7.8"/><rect x="322.4" y="511.0" width="4.3" height="7.8"/><rect x="324.9" y="516.0" width="4.3" height="7.8"/><rect x="329.9" y="500.0" width="4.3" height="7.8"/><rect x="329.9" y="506.0" width="4.3" height="7.8"/><rect x="329.9" y="548.0" width="4.3" height="7.8"/><rect x="336.7" y="522.5" width="4.3" height="7.8"/><rect x="341.2" y="568.0" width="4.3" height="7.8"/><rect x="344.7" y="504.5" width="4.3" height="7.8"/><rect x="344.7" y="511.5" width="4.3" height="7.8"/><rect x="344.7" y="527.0" width="4.3" height="7.8"/><rect x="348.4" y="499.0" width="4.3" height="7.8"/><rect x="348.4" y="527.0" width="4.3" height="7.8"/><rect x="348.4" y="538.0" width="4.3" height="7.8"/><rect x="350.9" y="505.0" width="4.3" height="7.8"/><rect x="350.9" y="533.0" width="4.3" height="7.8"/><rect x="350.9" y="548.0" width="4.3" height="7.8"/><rect x="353.9" y="512.0" width="4.3" height="7.8"/><rect x="353.9" y="527.0" width="4.3" height="7.8"/><rect x="360.6" y="522.5" width="4.3" height="7.8"/><rect x="368.6" y="477.0" width="4.3" height="7.8"/><rect x="368.6" y="486.0" width="4.3" height="7.8"/><rect x="368.6" y="494.0" width="4.3" height="7.8"/><rect x="368.6" y="503.0" width="4.3" height="7.8"/><rect x="371.4" y="487.0" width="4.3" height="7.8"/><rect x="371.4" y="497.0" width="4.3" height="7.8"/><rect x="371.4" y="510.0" width="4.3" height="7.8"/><rect x="371.4" y="522.0" width="4.3" height="7.8"/><rect x="374.4" y="492.0" width="4.3" height="7.8"/><rect x="374.4" y="505.0" width="4.3" height="7.8"/><rect x="374.4" y="529.0" width="4.3" height="7.8"/><rect x="377.4" y="493.0" width="4.3" height="7.8"/><rect x="377.4" y="520.0" width="4.3" height="7.8"/><rect x="380.9" y="484.0" width="4.3" height="7.8"/><rect x="380.9" y="493.0" width="4.3" height="7.8"/><rect x="383.9" y="487.0" width="4.3" height="7.8"/><rect x="383.9" y="499.0" width="4.3" height="7.8"/><rect x="386.9" y="495.0" width="4.3" height="7.8"/><rect x="386.9" y="518.0" width="4.3" height="7.8"/><rect x="393.7" y="479.0" width="4.3" height="7.8"/><rect x="398.4" y="477.0" width="4.3" height="7.8"/><rect x="398.4" y="486.0" width="4.3" height="7.8"/><rect x="398.4" y="497.0" width="4.3" height="7.8"/><rect x="401.9" y="489.0" width="4.3" height="7.8"/><rect x="401.9" y="498.0" width="4.3" height="7.8"/><rect x="407.4" y="484.0" width="4.3" height="7.8"/><rect x="407.4" y="496.0" width="4.3" height="7.8"/><rect x="407.4" y="505.0" width="4.3" height="7.8"/><rect x="410.4" y="490.0" width="4.3" height="7.8"/><rect x="410.4" y="500.0" width="4.3" height="7.8"/><rect x="410.4" y="511.0" width="4.3" height="7.8"/><rect x="413.4" y="486.0" width="4.3" height="7.8"/><rect x="413.4" y="504.0" width="4.3" height="7.8"/><rect x="413.4" y="518.0" width="4.3" height="7.8"/></g>
<line x1="86.3" y1="461.5" x2="86.3" y2="457.0" stroke="#000" stroke-width="1.5"/>
<line x1="86.3" y1="611.2" x2="86.3" y2="615.7" stroke="#000" stroke-width="1.5"/>
<line x1="119.5" y1="461.5" x2="119.5" y2="457.0" stroke="#000" stroke-width="1.5"/>
<line x1="119.5" y1="611.2" x2="119.5" y2="615.7" stroke="#000" stroke-width="1.5"/>
<line x1="152.7" y1="461.5" x2="152.7" y2="457.0" stroke="#000" stroke-width="1.5"/>
<line x1="152.7" y1="611.2" x2="152.7" y2="615.7" stroke="#000" stroke-width="1.5"/>
<line x1="185.9" y1="461.5" x2="185.9" y2="457.0" stroke="#000" stroke-width="1.5"/>
<line x1="185.9" y1="611.2" x2="185.9" y2="615.7" stroke="#000" stroke-width="1.5"/>
<line x1="219.10000000000002" y1="461.5" x2="219.10000000000002" y2="457.0" stroke="#000" stroke-width="1.5"/>
<line x1="219.10000000000002" y1="611.2" x2="219.10000000000002" y2="615.7" stroke="#000" stroke-width="1.5"/>
<line x1="252.3" y1="461.5" x2="252.3" y2="457.0" stroke="#000" stroke-width="1.5"/>
<line x1="252.3" y1="611.2" x2="252.3" y2="615.7" stroke="#000" stroke-width="1.5"/>
<line x1="285.5" y1="461.5" x2="285.5" y2="457.0" stroke="#000" stroke-width="1.5"/>
<line x1="285.5" y1="611.2" x2="285.5" y2="615.7" stroke="#000" stroke-width="1.5"/>
<line x1="318.70000000000005" y1="461.5" x2="318.70000000000005" y2="457.0" stroke="#000" stroke-width="1.5"/>
<line x1="318.70000000000005" y1="611.2" x2="318.70000000000005" y2="615.7" stroke="#000" stroke-width="1.5"/>
<line x1="351.90000000000003" y1="461.5" x2="351.90000000000003" y2="457.0" stroke="#000" stroke-width="1.5"/>
<line x1="351.90000000000003" y1="611.2" x2="351.90000000000003" y2="615.7" stroke="#000" stroke-width="1.5"/>
<line x1="385.1" y1="461.5" x2="385.1" y2="457.0" stroke="#000" stroke-width="1.5"/>
<line x1="385.1" y1="611.2" x2="385.1" y2="615.7" stroke="#000" stroke-width="1.5"/>
<line x1="418.3" y1="461.5" x2="418.3" y2="457.0" stroke="#000" stroke-width="1.5"/>
<line x1="418.3" y1="611.2" x2="418.3" y2="615.7" stroke="#000" stroke-width="1.5"/>
<line x1="86.3" y1="461.5" x2="81.8" y2="461.5" stroke="#000" stroke-width="1.5"/>
<line x1="418.3" y1="461.5" x2="422.8" y2="461.5" stroke="#000" stroke-width="1.5"/>
<line x1="86.3" y1="491.44" x2="81.8" y2="491.44" stroke="#000" stroke-width="1.5"/>
<line x1="418.3" y1="491.44" x2="422.8" y2="491.44" stroke="#000" stroke-width="1.5"/>
<line x1="86.3" y1="521.38" x2="81.8" y2="521.38" stroke="#000" stroke-width="1.5"/>
<line x1="418.3" y1="521.38" x2="422.8" y2="521.38" stroke="#000" stroke-width="1.5"/>
<line x1="86.3" y1="551.32" x2="81.8" y2="551.32" stroke="#000" stroke-width="1.5"/>
<line x1="418.3" y1="551.32" x2="422.8" y2="551.32" stroke="#000" stroke-width="1.5"/>
<line x1="86.3" y1="581.26" x2="81.8" y2="581.26" stroke="#000" stroke-width="1.5"/>
<line x1="418.3" y1="581.26" x2="422.8" y2="581.26" stroke="#000" stroke-width="1.5"/>
<line x1="86.3" y1="611.2" x2="81.8" y2="611.2" stroke="#000" stroke-width="1.5"/>
<line x1="418.3" y1="611.2" x2="422.8" y2="611.2" stroke="#000" stroke-width="1.5"/>
<text x="86.8" y="639" font-size="19.5" text-anchor="middle" font-weight="normal" >10°S</text>
<text x="153.2" y="639" font-size="19.5" text-anchor="middle" font-weight="normal" >6°S</text>
<text x="219.60000000000002" y="639" font-size="19.5" text-anchor="middle" font-weight="normal" >2°S</text>
<text x="286.0" y="639" font-size="19.5" text-anchor="middle" font-weight="normal" >2°N</text>
<text x="352.40000000000003" y="639" font-size="19.5" text-anchor="middle" font-weight="normal" >6°N</text>
<text x="418.8" y="639" font-size="19.5" text-anchor="middle" font-weight="normal" >10°N</text>
<text x="75" y="469" font-size="19.5" text-anchor="end" font-weight="normal" >0</text>
<text x="75" y="529" font-size="19.5" text-anchor="end" font-weight="normal" >−100</text>
<text x="75" y="589" font-size="19.5" text-anchor="end" font-weight="normal" >−200</text>
<text x="0" y="0" font-size="19.5" text-anchor="middle" transform="translate(19.3,539.4) rotate(-90)">Depth (m)</text>
<text x="2" y="462.3" font-size="28" text-anchor="start" font-weight="bold" >c</text>
<rect x="532.3" y="452.00" width="9.80" height="7.0" fill="#2e8b57"/>
<rect x="532.3" y="460.00" width="14.40" height="7.0" fill="#2e8b57"/>
<rect x="532.3" y="468.00" width="16.30" height="7.0" fill="#2e8b57"/>
<rect x="532.3" y="476.00" width="16.30" height="7.0" fill="#2e8b57"/>
<rect x="532.3" y="484.00" width="20.50" height="7.0" fill="#2e8b57"/>
<rect x="532.3" y="492.00" width="72.10" height="7.0" fill="#2e8b57"/>
<rect x="532.3" y="500.00" width="149.90" height="7.0" fill="#2e8b57"/>
<rect x="532.3" y="508.00" width="140.60" height="7.0" fill="#2e8b57"/>
<rect x="532.3" y="516.00" width="108.40" height="7.0" fill="#2e8b57"/>
<rect x="532.3" y="524.00" width="69.80" height="7.0" fill="#2e8b57"/>
<rect x="532.3" y="532.00" width="119.10" height="7.0" fill="#2e8b57"/>
<rect x="532.3" y="540.00" width="93.60" height="7.0" fill="#2e8b57"/>
<rect x="532.3" y="548.00" width="82.70" height="7.0" fill="#2e8b57"/>
<rect x="532.3" y="556.00" width="42.00" height="7.0" fill="#2e8b57"/>
<rect x="532.3" y="564.00" width="29.40" height="7.0" fill="#2e8b57"/>
<rect x="532.3" y="572.00" width="22.60" height="7.0" fill="#2e8b57"/>
<rect x="532.3" y="580.00" width="7.70" height="7.0" fill="#2e8b57"/>
<rect x="532.3" y="588.00" width="7.30" height="7.0" fill="#2e8b57"/>
<rect x="532.3" y="596.00" width="18.40" height="7.0" fill="#2e8b57"/>
<rect x="532.3" y="450.9" width="149.9000000000001" height="160.20000000000005" fill="none" stroke="#000" stroke-width="1.5"/>
<line x1="532.3" y1="450.9" x2="532.3" y2="447.9" stroke="#000" stroke-width="1.5"/>
<line x1="532.3" y1="611.1" x2="532.3" y2="614.1" stroke="#000" stroke-width="1.5"/>
<line x1="553.685" y1="450.9" x2="553.685" y2="447.9" stroke="#000" stroke-width="1.5"/>
<line x1="553.685" y1="611.1" x2="553.685" y2="614.1" stroke="#000" stroke-width="1.5"/>
<line x1="575.0699999999999" y1="450.9" x2="575.0699999999999" y2="447.9" stroke="#000" stroke-width="1.5"/>
<line x1="575.0699999999999" y1="611.1" x2="575.0699999999999" y2="614.1" stroke="#000" stroke-width="1.5"/>
<line x1="596.4549999999999" y1="450.9" x2="596.4549999999999" y2="447.9" stroke="#000" stroke-width="1.5"/>
<line x1="596.4549999999999" y1="611.1" x2="596.4549999999999" y2="614.1" stroke="#000" stroke-width="1.5"/>
<line x1="617.8399999999999" y1="450.9" x2="617.8399999999999" y2="447.9" stroke="#000" stroke-width="1.5"/>
<line x1="617.8399999999999" y1="611.1" x2="617.8399999999999" y2="614.1" stroke="#000" stroke-width="1.5"/>
<line x1="639.2249999999999" y1="450.9" x2="639.2249999999999" y2="447.9" stroke="#000" stroke-width="1.5"/>
<line x1="639.2249999999999" y1="611.1" x2="639.2249999999999" y2="614.1" stroke="#000" stroke-width="1.5"/>
<line x1="660.6099999999999" y1="450.9" x2="660.6099999999999" y2="447.9" stroke="#000" stroke-width="1.5"/>
<line x1="660.6099999999999" y1="611.1" x2="660.6099999999999" y2="614.1" stroke="#000" stroke-width="1.5"/>
<line x1="681.995" y1="450.9" x2="681.995" y2="447.9" stroke="#000" stroke-width="1.5"/>
<line x1="681.995" y1="611.1" x2="681.995" y2="614.1" stroke="#000" stroke-width="1.5"/>
<line x1="532.3" y1="450.9" x2="529.3" y2="450.9" stroke="#000" stroke-width="1.5"/>
<line x1="682.2" y1="450.9" x2="685.2" y2="450.9" stroke="#000" stroke-width="1.5"/>
<line x1="532.3" y1="490.95" x2="529.3" y2="490.95" stroke="#000" stroke-width="1.5"/>
<line x1="682.2" y1="490.95" x2="685.2" y2="490.95" stroke="#000" stroke-width="1.5"/>
<line x1="532.3" y1="531.0" x2="529.3" y2="531.0" stroke="#000" stroke-width="1.5"/>
<line x1="682.2" y1="531.0" x2="685.2" y2="531.0" stroke="#000" stroke-width="1.5"/>
<line x1="532.3" y1="571.05" x2="529.3" y2="571.05" stroke="#000" stroke-width="1.5"/>
<line x1="682.2" y1="571.05" x2="685.2" y2="571.05" stroke="#000" stroke-width="1.5"/>
<line x1="532.3" y1="611.1" x2="529.3" y2="611.1" stroke="#000" stroke-width="1.5"/>
<line x1="682.2" y1="611.1" x2="685.2" y2="611.1" stroke="#000" stroke-width="1.5"/>
<text x="532.3" y="639" font-size="19.5" text-anchor="middle" font-weight="normal" >0</text>
<text x="575.0699999999999" y="639" font-size="19.5" text-anchor="middle" font-weight="normal" >20</text>
<text x="617.8399999999999" y="639" font-size="19.5" text-anchor="middle" font-weight="normal" >40</text>
<text x="660.6099999999999" y="639" font-size="19.5" text-anchor="middle" font-weight="normal" >60</text>
<text x="605.3" y="661" font-size="19.5" text-anchor="middle" font-weight="normal" >Overturns</text>
<text x="523.5" y="457.9" font-size="19.5" text-anchor="end" font-weight="normal" >2</text>
<text x="523.5" y="497.95" font-size="19.5" text-anchor="end" font-weight="normal" >1</text>
<text x="523.5" y="538.0" font-size="19.5" text-anchor="end" font-weight="normal" >0</text>
<text x="523.5" y="578.05" font-size="19.5" text-anchor="end" font-weight="normal" >−1</text>
<text x="523.5" y="618.1" font-size="19.5" text-anchor="end" font-weight="normal" >−2</text>
<text x="0" y="0" font-size="18.9" text-anchor="middle" transform="translate(490,534.2) rotate(-90)">Normalized depth</text>
<text x="473" y="452.3" font-size="28" text-anchor="start" font-weight="bold" >d</text></svg>
</body></html>
